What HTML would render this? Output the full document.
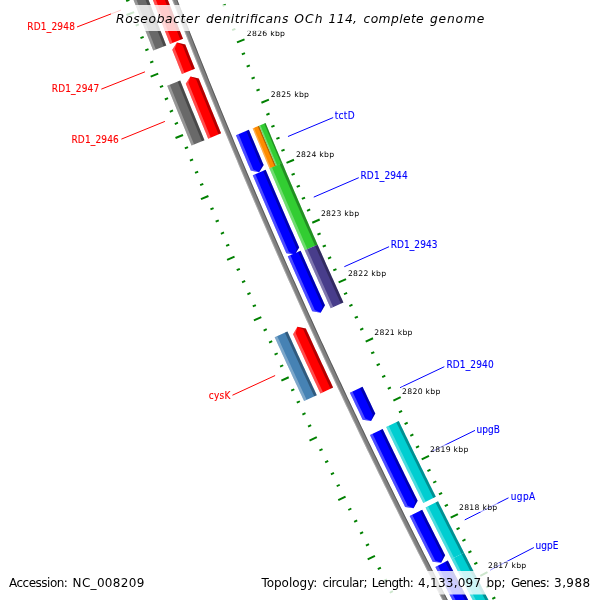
<!DOCTYPE html>
<html><head><meta charset="utf-8"><title>Roseobacter denitrificans OCh 114</title>
<style>html,body{margin:0;padding:0;background:#fff;overflow:hidden}svg{display:block}</style></head>
<body><svg width="600" height="600" viewBox="0 0 600 600">
<rect width="600" height="600" fill="#fff"/>
<polygon points="469.09,640.66 467.56,637.77 466.04,634.88 464.52,631.99 463.00,629.10 461.48,626.21 459.97,623.32 458.45,620.42 456.94,617.53 455.43,614.63 453.92,611.74 452.41,608.84 450.91,605.94 449.40,603.04 447.90,600.14 446.39,597.24 444.89,594.34 443.40,591.44 441.90,588.54 440.40,585.63 438.91,582.73 437.42,579.82 435.92,576.92 434.44,574.01 432.95,571.10 431.46,568.19 429.98,565.28 428.49,562.37 427.01,559.46 425.53,556.55 424.05,553.64 422.58,550.73 421.10,547.81 419.63,544.90 418.16,541.98 416.69,539.07 415.22,536.15 413.75,533.23 412.29,530.31 410.82,527.39 409.36,524.47 407.90,521.55 406.44,518.63 404.98,515.70 403.52,512.78 402.07,509.86 400.62,506.93 399.17,504.01 397.72,501.08 396.27,498.15 394.82,495.22 393.38,492.29 391.93,489.36 390.49,486.43 389.05,483.50 387.61,480.57 386.18,477.64 384.74,474.70 383.31,471.77 381.87,468.83 380.44,465.90 379.01,462.96 377.59,460.02 376.16,457.08 374.74,454.14 373.31,451.20 371.89,448.26 370.47,445.32 369.06,442.38 367.64,439.44 366.23,436.49 364.81,433.55 363.40,430.60 361.99,427.66 360.58,424.71 359.18,421.76 357.77,418.81 356.37,415.86 354.97,412.91 353.57,409.96 352.17,407.01 350.77,404.06 349.37,401.11 347.98,398.15 346.59,395.20 345.20,392.24 343.81,389.29 342.42,386.33 341.04,383.37 339.65,380.41 338.27,377.45 336.89,374.49 335.51,371.53 334.13,368.57 332.75,365.61 331.38,362.65 330.01,359.68 328.64,356.72 327.27,353.75 325.90,350.79 324.53,347.82 323.17,344.85 321.80,341.89 320.44,338.92 319.08,335.95 317.72,332.98 316.37,330.01 315.01,327.04 313.66,324.06 312.31,321.09 310.96,318.12 309.61,315.14 308.26,312.17 306.91,309.19 305.57,306.21 304.23,303.24 302.89,300.26 301.55,297.28 300.21,294.30 298.87,291.32 297.54,288.34 296.21,285.35 294.88,282.37 293.55,279.39 292.22,276.40 290.89,273.42 289.57,270.43 288.25,267.45 286.93,264.46 285.61,261.47 284.29,258.48 282.97,255.50 281.66,252.51 280.34,249.51 279.03,246.52 277.72,243.53 276.41,240.54 275.11,237.55 273.80,234.55 272.50,231.56 271.20,228.56 269.90,225.56 268.60,222.57 267.30,219.57 266.01,216.57 264.71,213.57 263.42,210.57 262.13,207.57 260.84,204.57 259.56,201.57 258.27,198.57 256.99,195.56 255.70,192.56 254.42,189.55 253.14,186.55 251.87,183.54 250.59,180.54 249.32,177.53 248.04,174.52 246.77,171.51 245.51,168.50 244.24,165.49 242.97,162.48 241.71,159.47 240.45,156.46 239.18,153.44 237.92,150.43 236.67,147.42 235.41,144.40 234.16,141.39 232.90,138.37 231.65,135.35 230.40,132.34 229.16,129.32 227.91,126.30 226.66,123.28 225.42,120.26 224.18,117.24 222.94,114.21 221.70,111.19 220.47,108.17 219.23,105.15 218.00,102.12 216.77,99.10 215.54,96.07 214.31,93.04 213.08,90.02 211.86,86.99 210.64,83.96 209.41,80.93 208.19,77.90 206.98,74.87 205.76,71.84 204.54,68.81 203.33,65.78 202.12,62.74 200.91,59.71 199.70,56.67 198.49,53.64 197.29,50.60 196.09,47.57 194.88,44.53 193.68,41.49 192.48,38.45 191.29,35.42 190.09,32.38 188.90,29.34 187.71,26.29 186.52,23.25 185.33,20.21 184.14,17.17 182.96,14.12 181.77,11.08 180.59,8.04 179.41,4.99 178.23,1.94 177.06,-1.10 175.88,-4.15 174.71,-7.20 173.53,-10.25 172.36,-13.30 171.19,-16.35 170.03,-19.40 168.86,-22.45 167.70,-25.50 166.54,-28.55 165.38,-31.61 164.22,-34.66 163.06,-37.71 161.90,-40.77 157.32,-39.04 158.48,-35.98 159.64,-32.92 160.80,-29.87 161.96,-26.81 163.12,-23.76 164.28,-20.70 165.45,-17.65 166.62,-14.59 167.79,-11.54 168.96,-8.49 170.13,-5.44 171.31,-2.39 172.48,0.66 173.66,3.71 174.84,6.76 176.02,9.81 177.21,12.85 178.39,15.90 179.58,18.95 180.76,21.99 181.95,25.04 183.15,28.08 184.34,31.12 185.53,34.17 186.73,37.21 187.93,40.25 189.13,43.29 190.33,46.33 191.53,49.37 192.73,52.41 193.94,55.45 195.15,58.49 196.36,61.52 197.57,64.56 198.78,67.59 200.00,70.63 201.21,73.66 202.43,76.70 203.65,79.73 204.87,82.76 206.09,85.79 207.32,88.82 208.54,91.86 209.77,94.88 211.00,97.91 212.23,100.94 213.46,103.97 214.70,107.00 215.93,110.02 217.17,113.05 218.41,116.07 219.65,119.10 220.89,122.12 222.13,125.14 223.38,128.17 224.63,131.19 225.88,134.21 227.13,137.23 228.38,140.25 229.63,143.27 230.89,146.29 232.14,149.30 233.40,152.32 234.66,155.34 235.93,158.35 237.19,161.37 238.45,164.38 239.72,167.39 240.99,170.41 242.26,173.42 243.53,176.43 244.80,179.44 246.08,182.45 247.36,185.46 248.64,188.47 249.91,191.47 251.20,194.48 252.48,197.49 253.76,200.49 255.05,203.50 256.34,206.50 257.63,209.51 258.92,212.51 260.21,215.51 261.51,218.51 262.80,221.51 264.10,224.51 265.40,227.51 266.70,230.51 268.01,233.51 269.31,236.51 270.62,239.50 271.92,242.50 273.23,245.50 274.54,248.49 275.86,251.48 277.17,254.48 278.49,257.47 279.80,260.46 281.12,263.45 282.44,266.44 283.77,269.43 285.09,272.42 286.42,275.41 287.74,278.39 289.07,281.38 290.40,284.37 291.73,287.35 293.07,290.34 294.40,293.32 295.74,296.30 297.08,299.29 298.42,302.27 299.76,305.25 301.10,308.23 302.45,311.21 303.80,314.19 305.14,317.16 306.49,320.14 307.84,323.12 309.20,326.09 310.55,329.07 311.91,332.04 313.27,335.01 314.63,337.99 315.99,340.96 317.35,343.93 318.71,346.90 320.08,349.87 321.45,352.84 322.82,355.81 324.19,358.78 325.56,361.74 326.93,364.71 328.31,367.67 329.69,370.64 331.07,373.60 332.45,376.56 333.83,379.53 335.21,382.49 336.60,385.45 337.98,388.41 339.37,391.37 340.76,394.33 342.16,397.28 343.55,400.24 344.94,403.20 346.34,406.15 347.74,409.11 349.14,412.06 350.54,415.02 351.94,417.97 353.35,420.92 354.75,423.87 356.16,426.82 357.57,429.77 358.98,432.72 360.39,435.67 361.81,438.61 363.22,441.56 364.64,444.50 366.06,447.45 367.48,450.39 368.90,453.34 370.33,456.28 371.75,459.22 373.18,462.16 374.61,465.10 376.04,468.04 377.47,470.98 378.90,473.92 380.34,476.85 381.78,479.79 383.21,482.73 384.65,485.66 386.09,488.59 387.54,491.53 388.98,494.46 390.43,497.39 391.88,500.32 393.33,503.25 394.78,506.18 396.23,509.11 397.68,512.04 399.14,514.96 400.60,517.89 402.05,520.82 403.51,523.74 404.98,526.66 406.44,529.59 407.91,532.51 409.37,535.43 410.84,538.35 412.31,541.27 413.78,544.19 415.26,547.11 416.73,550.02 418.21,552.94 419.68,555.86 421.16,558.77 422.65,561.68 424.13,564.60 425.61,567.51 427.10,570.42 428.59,573.33 430.07,576.24 431.56,579.15 433.06,582.06 434.55,584.97 436.05,587.88 437.54,590.78 439.04,593.69 440.54,596.59 442.04,599.49 443.55,602.40 445.05,605.30 446.56,608.20 448.06,611.10 449.57,614.00 451.09,616.90 452.60,619.80 454.11,622.69 455.63,625.59 457.15,628.48 458.66,631.38 460.18,634.27 461.71,637.16 463.23,640.06 464.76,642.95" fill="#808080"/>
<polygon points="465.62,642.49 464.10,639.60 462.57,636.71 461.05,633.82 459.53,630.92 458.01,628.03 456.50,625.13 454.98,622.24 453.47,619.34 451.95,616.44 450.44,613.55 448.93,610.65 447.43,607.75 445.92,604.85 444.42,601.95 442.91,599.04 441.41,596.14 439.91,593.24 438.41,590.33 436.92,587.43 435.42,584.52 433.93,581.61 432.44,578.71 430.95,575.80 429.46,572.89 427.97,569.98 426.48,567.07 425.00,564.15 423.52,561.24 422.04,558.33 420.56,555.41 419.08,552.50 417.60,549.58 416.13,546.66 414.66,543.75 413.19,540.83 411.72,537.91 410.25,534.99 408.78,532.07 407.32,529.15 405.85,526.23 404.39,523.30 402.93,520.38 401.47,517.45 400.02,514.53 398.56,511.60 397.11,508.67 395.65,505.75 394.20,502.82 392.75,499.89 391.31,496.96 389.86,494.03 388.42,491.10 386.97,488.16 385.53,485.23 384.09,482.29 382.66,479.36 381.22,476.42 379.78,473.49 378.35,470.55 376.92,467.61 375.49,464.67 374.06,461.73 372.63,458.79 371.21,455.85 369.79,452.91 368.36,449.97 366.94,447.02 365.52,444.08 364.11,441.13 362.69,438.19 361.28,435.24 359.87,432.29 358.45,429.35 357.05,426.40 355.64,423.45 354.23,420.50 352.83,417.55 351.42,414.59 350.02,411.64 348.62,408.69 347.23,405.73 345.83,402.78 344.44,399.82 343.04,396.87 341.65,393.91 340.26,390.95 338.87,387.99 337.49,385.03 336.10,382.07 334.72,379.11 333.34,376.15 331.95,373.19 330.58,370.22 329.20,367.26 327.82,364.30 326.45,361.33 325.08,358.36 323.71,355.40 322.34,352.43 320.97,349.46 319.60,346.49 318.24,343.52 316.88,340.55 315.52,337.58 314.16,334.61 312.80,331.63 311.44,328.66 310.09,325.69 308.74,322.71 307.39,319.74 306.04,316.76 304.69,313.78 303.34,310.80 302.00,307.82 300.65,304.85 299.31,301.86 297.97,298.88 296.63,295.90 295.30,292.92 293.96,289.94 292.63,286.95 291.30,283.97 289.97,280.98 288.64,278.00 287.31,275.01 285.99,272.02 284.66,269.03 283.34,266.05 282.02,263.06 280.70,260.07 279.38,257.07 278.07,254.08 276.75,251.09 275.44,248.10 274.13,245.10 272.82,242.11 271.51,239.11 270.21,236.12 268.90,233.12 267.60,230.12 266.30,227.12 265.00,224.12 263.70,221.13 262.41,218.13 261.11,215.12 259.82,212.12 258.53,209.12 257.24,206.12 255.95,203.11 254.67,200.11 253.38,197.10 252.10,194.10 250.82,191.09 249.54,188.08 248.26,185.08 246.98,182.07 245.71,179.06 244.43,176.05 243.16,173.04 241.89,170.02 240.62,167.01 239.36,164.00 238.09,160.99 236.83,157.97 235.57,154.96 234.31,151.94 233.05,148.93 231.79,145.91 230.54,142.89 229.28,139.87 228.03,136.85 226.78,133.83 225.53,130.81 224.29,127.79 223.04,124.77 221.80,121.75 220.55,118.73 219.31,115.70 218.08,112.68 216.84,109.65 215.60,106.63 214.37,103.60 213.14,100.57 211.91,97.54 210.68,94.52 209.45,91.49 208.22,88.46 207.00,85.43 205.78,82.40 204.56,79.36 203.34,76.33 202.12,73.30 200.90,70.27 199.69,67.23 198.48,64.20 197.27,61.16 196.06,58.12 194.85,55.09 193.64,52.05 192.44,49.01 191.24,45.97 190.04,42.93 188.84,39.89 187.64,36.85 186.44,33.81 185.25,30.77 184.06,27.72 182.87,24.68 181.68,21.64 180.49,18.59 179.30,15.55 178.12,12.50 176.94,9.45 175.76,6.41 174.58,3.36 173.40,0.31 172.22,-2.74 171.05,-5.79 169.87,-8.84 168.70,-11.89 167.53,-14.94 166.37,-18.00 165.20,-21.05 164.04,-24.10 162.87,-27.16 161.71,-30.21 160.55,-33.27 159.39,-36.33 158.24,-39.38 157.32,-39.04 158.48,-35.98 159.64,-32.92 160.80,-29.87 161.96,-26.81 163.12,-23.76 164.28,-20.70 165.45,-17.65 166.62,-14.59 167.79,-11.54 168.96,-8.49 170.13,-5.44 171.31,-2.39 172.48,0.66 173.66,3.71 174.84,6.76 176.02,9.81 177.21,12.85 178.39,15.90 179.58,18.95 180.76,21.99 181.95,25.04 183.15,28.08 184.34,31.12 185.53,34.17 186.73,37.21 187.93,40.25 189.13,43.29 190.33,46.33 191.53,49.37 192.73,52.41 193.94,55.45 195.15,58.49 196.36,61.52 197.57,64.56 198.78,67.59 200.00,70.63 201.21,73.66 202.43,76.70 203.65,79.73 204.87,82.76 206.09,85.79 207.32,88.82 208.54,91.86 209.77,94.88 211.00,97.91 212.23,100.94 213.46,103.97 214.70,107.00 215.93,110.02 217.17,113.05 218.41,116.07 219.65,119.10 220.89,122.12 222.13,125.14 223.38,128.17 224.63,131.19 225.88,134.21 227.13,137.23 228.38,140.25 229.63,143.27 230.89,146.29 232.14,149.30 233.40,152.32 234.66,155.34 235.93,158.35 237.19,161.37 238.45,164.38 239.72,167.39 240.99,170.41 242.26,173.42 243.53,176.43 244.80,179.44 246.08,182.45 247.36,185.46 248.64,188.47 249.91,191.47 251.20,194.48 252.48,197.49 253.76,200.49 255.05,203.50 256.34,206.50 257.63,209.51 258.92,212.51 260.21,215.51 261.51,218.51 262.80,221.51 264.10,224.51 265.40,227.51 266.70,230.51 268.01,233.51 269.31,236.51 270.62,239.50 271.92,242.50 273.23,245.50 274.54,248.49 275.86,251.48 277.17,254.48 278.49,257.47 279.80,260.46 281.12,263.45 282.44,266.44 283.77,269.43 285.09,272.42 286.42,275.41 287.74,278.39 289.07,281.38 290.40,284.37 291.73,287.35 293.07,290.34 294.40,293.32 295.74,296.30 297.08,299.29 298.42,302.27 299.76,305.25 301.10,308.23 302.45,311.21 303.80,314.19 305.14,317.16 306.49,320.14 307.84,323.12 309.20,326.09 310.55,329.07 311.91,332.04 313.27,335.01 314.63,337.99 315.99,340.96 317.35,343.93 318.71,346.90 320.08,349.87 321.45,352.84 322.82,355.81 324.19,358.78 325.56,361.74 326.93,364.71 328.31,367.67 329.69,370.64 331.07,373.60 332.45,376.56 333.83,379.53 335.21,382.49 336.60,385.45 337.98,388.41 339.37,391.37 340.76,394.33 342.16,397.28 343.55,400.24 344.94,403.20 346.34,406.15 347.74,409.11 349.14,412.06 350.54,415.02 351.94,417.97 353.35,420.92 354.75,423.87 356.16,426.82 357.57,429.77 358.98,432.72 360.39,435.67 361.81,438.61 363.22,441.56 364.64,444.50 366.06,447.45 367.48,450.39 368.90,453.34 370.33,456.28 371.75,459.22 373.18,462.16 374.61,465.10 376.04,468.04 377.47,470.98 378.90,473.92 380.34,476.85 381.78,479.79 383.21,482.73 384.65,485.66 386.09,488.59 387.54,491.53 388.98,494.46 390.43,497.39 391.88,500.32 393.33,503.25 394.78,506.18 396.23,509.11 397.68,512.04 399.14,514.96 400.60,517.89 402.05,520.82 403.51,523.74 404.98,526.66 406.44,529.59 407.91,532.51 409.37,535.43 410.84,538.35 412.31,541.27 413.78,544.19 415.26,547.11 416.73,550.02 418.21,552.94 419.68,555.86 421.16,558.77 422.65,561.68 424.13,564.60 425.61,567.51 427.10,570.42 428.59,573.33 430.07,576.24 431.56,579.15 433.06,582.06 434.55,584.97 436.05,587.88 437.54,590.78 439.04,593.69 440.54,596.59 442.04,599.49 443.55,602.40 445.05,605.30 446.56,608.20 448.06,611.10 449.57,614.00 451.09,616.90 452.60,619.80 454.11,622.69 455.63,625.59 457.15,628.48 458.66,631.38 460.18,634.27 461.71,637.16 463.23,640.06 464.76,642.95" fill="#fff" fill-opacity="0.30"/>
<polygon points="469.09,640.66 467.56,637.77 466.04,634.88 464.52,631.99 463.00,629.10 461.48,626.21 459.97,623.32 458.45,620.42 456.94,617.53 455.43,614.63 453.92,611.74 452.41,608.84 450.91,605.94 449.40,603.04 447.90,600.14 446.39,597.24 444.89,594.34 443.40,591.44 441.90,588.54 440.40,585.63 438.91,582.73 437.42,579.82 435.92,576.92 434.44,574.01 432.95,571.10 431.46,568.19 429.98,565.28 428.49,562.37 427.01,559.46 425.53,556.55 424.05,553.64 422.58,550.73 421.10,547.81 419.63,544.90 418.16,541.98 416.69,539.07 415.22,536.15 413.75,533.23 412.29,530.31 410.82,527.39 409.36,524.47 407.90,521.55 406.44,518.63 404.98,515.70 403.52,512.78 402.07,509.86 400.62,506.93 399.17,504.01 397.72,501.08 396.27,498.15 394.82,495.22 393.38,492.29 391.93,489.36 390.49,486.43 389.05,483.50 387.61,480.57 386.18,477.64 384.74,474.70 383.31,471.77 381.87,468.83 380.44,465.90 379.01,462.96 377.59,460.02 376.16,457.08 374.74,454.14 373.31,451.20 371.89,448.26 370.47,445.32 369.06,442.38 367.64,439.44 366.23,436.49 364.81,433.55 363.40,430.60 361.99,427.66 360.58,424.71 359.18,421.76 357.77,418.81 356.37,415.86 354.97,412.91 353.57,409.96 352.17,407.01 350.77,404.06 349.37,401.11 347.98,398.15 346.59,395.20 345.20,392.24 343.81,389.29 342.42,386.33 341.04,383.37 339.65,380.41 338.27,377.45 336.89,374.49 335.51,371.53 334.13,368.57 332.75,365.61 331.38,362.65 330.01,359.68 328.64,356.72 327.27,353.75 325.90,350.79 324.53,347.82 323.17,344.85 321.80,341.89 320.44,338.92 319.08,335.95 317.72,332.98 316.37,330.01 315.01,327.04 313.66,324.06 312.31,321.09 310.96,318.12 309.61,315.14 308.26,312.17 306.91,309.19 305.57,306.21 304.23,303.24 302.89,300.26 301.55,297.28 300.21,294.30 298.87,291.32 297.54,288.34 296.21,285.35 294.88,282.37 293.55,279.39 292.22,276.40 290.89,273.42 289.57,270.43 288.25,267.45 286.93,264.46 285.61,261.47 284.29,258.48 282.97,255.50 281.66,252.51 280.34,249.51 279.03,246.52 277.72,243.53 276.41,240.54 275.11,237.55 273.80,234.55 272.50,231.56 271.20,228.56 269.90,225.56 268.60,222.57 267.30,219.57 266.01,216.57 264.71,213.57 263.42,210.57 262.13,207.57 260.84,204.57 259.56,201.57 258.27,198.57 256.99,195.56 255.70,192.56 254.42,189.55 253.14,186.55 251.87,183.54 250.59,180.54 249.32,177.53 248.04,174.52 246.77,171.51 245.51,168.50 244.24,165.49 242.97,162.48 241.71,159.47 240.45,156.46 239.18,153.44 237.92,150.43 236.67,147.42 235.41,144.40 234.16,141.39 232.90,138.37 231.65,135.35 230.40,132.34 229.16,129.32 227.91,126.30 226.66,123.28 225.42,120.26 224.18,117.24 222.94,114.21 221.70,111.19 220.47,108.17 219.23,105.15 218.00,102.12 216.77,99.10 215.54,96.07 214.31,93.04 213.08,90.02 211.86,86.99 210.64,83.96 209.41,80.93 208.19,77.90 206.98,74.87 205.76,71.84 204.54,68.81 203.33,65.78 202.12,62.74 200.91,59.71 199.70,56.67 198.49,53.64 197.29,50.60 196.09,47.57 194.88,44.53 193.68,41.49 192.48,38.45 191.29,35.42 190.09,32.38 188.90,29.34 187.71,26.29 186.52,23.25 185.33,20.21 184.14,17.17 182.96,14.12 181.77,11.08 180.59,8.04 179.41,4.99 178.23,1.94 177.06,-1.10 175.88,-4.15 174.71,-7.20 173.53,-10.25 172.36,-13.30 171.19,-16.35 170.03,-19.40 168.86,-22.45 167.70,-25.50 166.54,-28.55 165.38,-31.61 164.22,-34.66 163.06,-37.71 161.90,-40.77 160.99,-40.42 162.14,-37.37 163.30,-34.31 164.46,-31.26 165.62,-28.20 166.78,-25.15 167.95,-22.10 169.11,-19.05 170.28,-16.00 171.45,-12.95 172.62,-9.90 173.79,-6.85 174.97,-3.80 176.14,-0.75 177.32,2.30 178.50,5.34 179.68,8.39 180.86,11.43 182.04,14.48 183.23,17.52 184.42,20.57 185.60,23.61 186.80,26.65 187.99,29.69 189.18,32.73 190.38,35.77 191.57,38.81 192.77,41.85 193.97,44.89 195.17,47.93 196.38,50.96 197.58,54.00 198.79,57.04 200.00,60.07 201.21,63.11 202.42,66.14 203.63,69.17 204.85,72.20 206.07,75.24 207.28,78.27 208.50,81.30 209.73,84.33 210.95,87.36 212.17,90.38 213.40,93.41 214.63,96.44 215.86,99.46 217.09,102.49 218.32,105.52 219.56,108.54 220.80,111.56 222.03,114.59 223.27,117.61 224.52,120.63 225.76,123.65 227.00,126.67 228.25,129.69 229.50,132.71 230.75,135.73 232.00,138.75 233.25,141.76 234.51,144.78 235.76,147.79 237.02,150.81 238.28,153.82 239.54,156.84 240.80,159.85 242.07,162.86 243.33,165.87 244.60,168.88 245.87,171.89 247.14,174.90 248.41,177.91 249.69,180.92 250.96,183.93 252.24,186.93 253.52,189.94 254.80,192.94 256.08,195.95 257.37,198.95 258.65,201.96 259.94,204.96 261.23,207.96 262.52,210.96 263.81,213.96 265.11,216.96 266.40,219.96 267.70,222.96 269.00,225.95 270.30,228.95 271.60,231.95 272.90,234.94 274.21,237.94 275.52,240.93 276.82,243.92 278.13,246.92 279.45,249.91 280.76,252.90 282.07,255.89 283.39,258.88 284.71,261.87 286.03,264.86 287.35,267.84 288.67,270.83 290.00,273.82 291.32,276.80 292.65,279.79 293.98,282.77 295.31,285.75 296.65,288.74 297.98,291.72 299.32,294.70 300.65,297.68 301.99,300.66 303.33,303.64 304.68,306.62 306.02,309.59 307.37,312.57 308.71,315.55 310.06,318.52 311.41,321.50 312.77,324.47 314.12,327.44 315.47,330.41 316.83,333.39 318.19,336.36 319.55,339.33 320.91,342.30 322.28,345.26 323.64,348.23 325.01,351.20 326.38,354.16 327.75,357.13 329.12,360.10 330.49,363.06 331.87,366.02 333.24,368.99 334.62,371.95 336.00,374.91 337.38,377.87 338.76,380.83 340.15,383.79 341.53,386.74 342.92,389.70 344.31,392.66 345.70,395.61 347.09,398.57 348.49,401.52 349.88,404.48 351.28,407.43 352.68,410.38 354.08,413.33 355.48,416.28 356.89,419.23 358.29,422.18 359.70,425.13 361.11,428.08 362.52,431.03 363.93,433.97 365.34,436.92 366.76,439.86 368.17,442.80 369.59,445.75 371.01,448.69 372.43,451.63 373.86,454.57 375.28,457.51 376.71,460.45 378.13,463.39 379.56,466.33 380.99,469.26 382.43,472.20 383.86,475.13 385.30,478.07 386.73,481.00 388.17,483.93 389.61,486.87 391.05,489.80 392.50,492.73 393.94,495.66 395.39,498.59 396.84,501.51 398.29,504.44 399.74,507.37 401.19,510.29 402.65,513.22 404.10,516.14 405.56,519.07 407.02,521.99 408.48,524.91 409.95,527.83 411.41,530.75 412.88,533.67 414.34,536.59 415.81,539.51 417.28,542.42 418.75,545.34 420.23,548.25 421.70,551.17 423.18,554.08 424.66,557.00 426.14,559.91 427.62,562.82 429.10,565.73 430.59,568.64 432.08,571.55 433.56,574.46 435.05,577.36 436.54,580.27 438.04,583.18 439.53,586.08 441.03,588.98 442.52,591.89 444.02,594.79 445.52,597.69 447.03,600.59 448.53,603.49 450.04,606.39 451.54,609.29 453.05,612.19 454.56,615.08 456.07,617.98 457.59,620.88 459.10,623.77 460.62,626.66 462.13,629.56 463.65,632.45 465.18,635.34 466.70,638.23 468.22,641.12" fill="#000" fill-opacity="0.30"/>
<polygon points="166.27,45.43 165.07,42.38 163.87,39.32 162.67,36.25 161.47,33.19 160.27,30.13 159.08,27.07 157.88,24.01 156.69,20.94 155.50,17.88 154.31,14.81 153.13,11.75 151.94,8.68 150.76,5.61 149.58,2.55 148.40,-0.52 147.22,-3.59 146.05,-6.66 144.87,-9.73 143.70,-12.80 142.53,-15.87 141.36,-18.95 140.19,-22.02 139.02,-25.09 137.86,-28.17 136.70,-31.24 123.60,-26.29 124.76,-23.21 125.93,-20.13 127.10,-17.05 128.27,-13.97 129.44,-10.89 130.62,-7.81 131.79,-4.73 132.97,-1.66 134.15,1.42 135.33,4.50 136.51,7.57 137.70,10.65 138.88,13.72 140.07,16.80 141.26,19.87 142.45,22.94 143.64,26.01 144.84,29.08 146.03,32.15 147.23,35.22 148.43,38.29 149.63,41.36 150.83,44.43 152.04,47.49 153.24,50.56" fill="#696969"/>
<polygon points="155.85,49.54 154.64,46.47 153.44,43.41 152.24,40.34 151.04,37.27 149.84,34.20 148.64,31.14 147.45,28.07 146.25,25.00 145.06,21.93 143.87,18.86 142.68,15.79 141.49,12.71 140.31,9.64 139.13,6.57 137.94,3.49 136.76,0.42 135.59,-2.66 134.41,-5.73 133.23,-8.81 132.06,-11.89 130.89,-14.96 129.72,-18.04 128.55,-21.12 127.38,-24.20 126.22,-27.28 123.60,-26.29 124.76,-23.21 125.93,-20.13 127.10,-17.05 128.27,-13.97 129.44,-10.89 130.62,-7.81 131.79,-4.73 132.97,-1.66 134.15,1.42 135.33,4.50 136.51,7.57 137.70,10.65 138.88,13.72 140.07,16.80 141.26,19.87 142.45,22.94 143.64,26.01 144.84,29.08 146.03,32.15 147.23,35.22 148.43,38.29 149.63,41.36 150.83,44.43 152.04,47.49 153.24,50.56" fill="#fff" fill-opacity="0.30"/>
<polygon points="166.27,45.43 165.07,42.38 163.87,39.32 162.67,36.25 161.47,33.19 160.27,30.13 159.08,27.07 157.88,24.01 156.69,20.94 155.50,17.88 154.31,14.81 153.13,11.75 151.94,8.68 150.76,5.61 149.58,2.55 148.40,-0.52 147.22,-3.59 146.05,-6.66 144.87,-9.73 143.70,-12.80 142.53,-15.87 141.36,-18.95 140.19,-22.02 139.02,-25.09 137.86,-28.17 136.70,-31.24 134.08,-30.25 135.24,-27.18 136.40,-24.10 137.57,-21.02 138.74,-17.95 139.91,-14.88 141.08,-11.80 142.26,-8.73 143.43,-5.66 144.61,-2.59 145.79,0.48 146.97,3.55 148.15,6.62 149.33,9.69 150.52,12.76 151.70,15.82 152.89,18.89 154.08,21.96 155.27,25.02 156.47,28.09 157.66,31.15 158.86,34.21 160.06,37.28 161.26,40.34 162.46,43.40 163.66,46.46" fill="#000" fill-opacity="0.30"/>
<polygon points="204.48,140.17 203.25,137.19 202.02,134.22 200.80,131.24 199.57,128.26 198.35,125.28 197.13,122.30 195.91,119.32 194.69,116.34 193.48,113.36 192.26,110.38 191.05,107.40 189.84,104.42 188.63,101.43 187.42,98.45 186.22,95.46 185.01,92.48 183.81,89.49 182.61,86.51 181.41,83.52 180.21,80.53 167.21,85.74 168.41,88.73 169.62,91.73 170.82,94.72 172.03,97.71 173.24,100.71 174.44,103.70 175.66,106.69 176.87,109.68 178.08,112.67 179.30,115.66 180.51,118.65 181.73,121.64 182.95,124.62 184.18,127.61 185.40,130.60 186.62,133.58 187.85,136.56 189.08,139.55 190.31,142.53 191.54,145.51" fill="#696969"/>
<polygon points="194.13,144.45 192.90,141.46 191.67,138.48 190.44,135.50 189.21,132.52 187.99,129.53 186.77,126.55 185.55,123.56 184.33,120.58 183.11,117.59 181.89,114.60 180.68,111.62 179.46,108.63 178.25,105.64 177.04,102.65 175.83,99.66 174.62,96.67 173.42,93.68 172.21,90.68 171.01,87.69 169.81,84.70 167.21,85.74 168.41,88.73 169.62,91.73 170.82,94.72 172.03,97.71 173.24,100.71 174.44,103.70 175.66,106.69 176.87,109.68 178.08,112.67 179.30,115.66 180.51,118.65 181.73,121.64 182.95,124.62 184.18,127.61 185.40,130.60 186.62,133.58 187.85,136.56 189.08,139.55 190.31,142.53 191.54,145.51" fill="#fff" fill-opacity="0.30"/>
<polygon points="204.48,140.17 203.25,137.19 202.02,134.22 200.80,131.24 199.57,128.26 198.35,125.28 197.13,122.30 195.91,119.32 194.69,116.34 193.48,113.36 192.26,110.38 191.05,107.40 189.84,104.42 188.63,101.43 187.42,98.45 186.22,95.46 185.01,92.48 183.81,89.49 182.61,86.51 181.41,83.52 180.21,80.53 177.61,81.57 178.81,84.56 180.01,87.55 181.21,90.54 182.41,93.53 183.62,96.51 184.83,99.50 186.04,102.48 187.25,105.47 188.46,108.45 189.67,111.44 190.89,114.42 192.10,117.40 193.32,120.38 194.54,123.37 195.76,126.35 196.98,129.33 198.21,132.30 199.43,135.28 200.66,138.26 201.89,141.24" fill="#000" fill-opacity="0.30"/>
<polygon points="316.79,395.14 315.44,392.26 314.09,389.36 312.74,386.47 311.39,383.58 310.04,380.69 308.70,377.80 307.36,374.90 306.01,372.01 304.67,369.11 303.34,366.22 302.00,363.32 300.66,360.42 299.33,357.52 298.00,354.63 296.67,351.73 295.34,348.83 294.01,345.93 292.68,343.02 291.36,340.12 290.04,337.22 288.71,334.31 287.39,331.41 274.65,337.20 275.97,340.11 277.29,343.02 278.62,345.93 279.95,348.84 281.28,351.75 282.61,354.66 283.94,357.56 285.28,360.47 286.61,363.38 287.95,366.28 289.29,369.18 290.63,372.09 291.97,374.99 293.31,377.89 294.66,380.79 296.00,383.69 297.35,386.59 298.70,389.49 300.05,392.39 301.40,395.29 302.76,398.19 304.11,401.08" fill="#4682b4"/>
<polygon points="306.65,399.89 305.29,397.00 303.94,394.10 302.59,391.21 301.24,388.31 299.89,385.41 298.54,382.51 297.20,379.62 295.85,376.72 294.51,373.81 293.17,370.91 291.83,368.01 290.49,365.11 289.15,362.21 287.82,359.30 286.49,356.40 285.15,353.49 283.82,350.58 282.50,347.68 281.17,344.77 279.84,341.86 278.52,338.95 277.20,336.04 274.65,337.20 275.97,340.11 277.29,343.02 278.62,345.93 279.95,348.84 281.28,351.75 282.61,354.66 283.94,357.56 285.28,360.47 286.61,363.38 287.95,366.28 289.29,369.18 290.63,372.09 291.97,374.99 293.31,377.89 294.66,380.79 296.00,383.69 297.35,386.59 298.70,389.49 300.05,392.39 301.40,395.29 302.76,398.19 304.11,401.08" fill="#fff" fill-opacity="0.30"/>
<polygon points="316.79,395.14 315.44,392.26 314.09,389.36 312.74,386.47 311.39,383.58 310.04,380.69 308.70,377.80 307.36,374.90 306.01,372.01 304.67,369.11 303.34,366.22 302.00,363.32 300.66,360.42 299.33,357.52 298.00,354.63 296.67,351.73 295.34,348.83 294.01,345.93 292.68,343.02 291.36,340.12 290.04,337.22 288.71,334.31 287.39,331.41 284.84,332.57 286.17,335.47 287.49,338.38 288.81,341.28 290.14,344.19 291.46,347.09 292.79,349.99 294.12,352.89 295.45,355.79 296.79,358.69 298.12,361.59 299.46,364.49 300.79,367.39 302.13,370.29 303.47,373.18 304.82,376.08 306.16,378.98 307.51,381.87 308.85,384.76 310.20,387.66 311.55,390.55 312.90,393.44 314.25,396.33" fill="#000" fill-opacity="0.30"/>
<polygon points="183.02,38.84 181.82,35.79 180.62,32.74 179.43,29.69 178.23,26.64 177.04,23.59 175.85,20.53 174.66,17.48 173.47,14.42 172.28,11.37 171.10,8.31 169.92,5.26 168.74,2.20 167.56,-0.86 166.38,-3.92 165.20,-6.98 164.03,-10.04 162.86,-13.10 161.68,-16.16 160.51,-19.22 159.35,-22.28 158.18,-25.35 157.02,-28.41 155.85,-31.47 154.69,-34.54 153.53,-37.60 140.44,-32.66 141.60,-29.58 142.76,-26.51 143.93,-23.44 145.10,-20.37 146.26,-17.30 147.43,-14.23 148.61,-11.16 149.78,-8.09 150.96,-5.02 152.13,-1.96 153.31,1.11 154.49,4.17 155.68,7.24 156.86,10.30 158.04,13.37 159.23,16.43 160.42,19.49 161.61,22.56 162.80,25.62 164.00,28.68 165.19,31.74 166.39,34.80 167.59,37.85 168.79,40.91 169.99,43.97" fill="#ff0000"/>
<polygon points="172.60,42.94 171.40,39.89 170.20,36.83 169.00,33.77 167.80,30.72 166.61,27.66 165.41,24.60 164.22,21.54 163.03,18.48 161.84,15.42 160.66,12.36 159.47,9.29 158.29,6.23 157.11,3.17 155.93,0.10 154.75,-2.96 153.57,-6.03 152.40,-9.09 151.22,-12.16 150.05,-15.23 148.88,-18.30 147.71,-21.36 146.55,-24.43 145.38,-27.50 144.22,-30.57 143.06,-33.64 140.44,-32.66 141.60,-29.58 142.76,-26.51 143.93,-23.44 145.10,-20.37 146.26,-17.30 147.43,-14.23 148.61,-11.16 149.78,-8.09 150.96,-5.02 152.13,-1.96 153.31,1.11 154.49,4.17 155.68,7.24 156.86,10.30 158.04,13.37 159.23,16.43 160.42,19.49 161.61,22.56 162.80,25.62 164.00,28.68 165.19,31.74 166.39,34.80 167.59,37.85 168.79,40.91 169.99,43.97" fill="#fff" fill-opacity="0.30"/>
<polygon points="183.02,38.84 181.82,35.79 180.62,32.74 179.43,29.69 178.23,26.64 177.04,23.59 175.85,20.53 174.66,17.48 173.47,14.42 172.28,11.37 171.10,8.31 169.92,5.26 168.74,2.20 167.56,-0.86 166.38,-3.92 165.20,-6.98 164.03,-10.04 162.86,-13.10 161.68,-16.16 160.51,-19.22 159.35,-22.28 158.18,-25.35 157.02,-28.41 155.85,-31.47 154.69,-34.54 153.53,-37.60 150.91,-36.61 152.07,-33.55 153.24,-30.48 154.40,-27.42 155.56,-24.35 156.73,-21.29 157.90,-18.22 159.07,-15.16 160.24,-12.10 161.41,-9.03 162.59,-5.97 163.77,-2.91 164.94,0.15 166.12,3.21 167.31,6.27 168.49,9.32 169.67,12.38 170.86,15.44 172.05,18.49 173.24,21.55 174.43,24.60 175.62,27.66 176.82,30.71 178.02,33.76 179.21,36.82 180.41,39.87" fill="#000" fill-opacity="0.30"/>
<polygon points="181.91,74.03 180.70,70.99 179.48,67.94 178.27,64.90 177.06,61.85 175.85,58.81 174.65,55.76 173.44,52.72 172.24,49.67 176.94,42.51 185.26,44.53 186.46,47.57 187.66,50.61 188.87,53.65 190.07,56.69 191.28,59.72 192.49,62.76 193.70,65.80 194.91,68.83" fill="#ff0000"/>
<polygon points="181.91,74.03 180.70,70.99 179.48,67.94 178.27,64.90 177.06,61.85 175.85,58.81 174.65,55.76 173.44,52.72 172.24,49.67 176.94,42.51 174.84,48.64 176.05,51.69 177.25,54.73 178.46,57.78 179.66,60.82 180.87,63.86 182.09,66.91 183.30,69.95 184.51,72.99" fill="#fff" fill-opacity="0.30"/>
<polygon points="194.91,68.83 193.70,65.80 192.49,62.76 191.28,59.72 190.07,56.69 188.87,53.65 187.66,50.61 186.46,47.57 185.26,44.53 176.94,42.51 182.66,45.56 183.86,48.60 185.06,51.64 186.26,54.68 187.47,57.72 188.68,60.76 189.89,63.80 191.10,66.83 192.31,69.87" fill="#000" fill-opacity="0.30"/>
<polygon points="208.18,138.64 206.98,135.75 205.79,132.86 204.60,129.97 203.41,127.08 202.22,124.18 201.04,121.29 199.85,118.40 198.67,115.50 197.49,112.61 196.31,109.71 195.13,106.82 193.96,103.92 192.78,101.02 191.61,98.13 190.43,95.23 189.26,92.33 188.09,89.43 186.93,86.53 185.76,83.63 190.42,76.44 198.75,78.41 199.91,81.30 201.08,84.20 202.25,87.09 203.41,89.98 204.58,92.87 205.76,95.76 206.93,98.65 208.10,101.54 209.28,104.43 210.45,107.32 211.63,110.21 212.81,113.10 213.99,115.99 215.18,118.87 216.36,121.76 217.55,124.64 218.74,127.53 219.92,130.41 221.12,133.29" fill="#ff0000"/>
<polygon points="208.18,138.64 206.98,135.75 205.79,132.86 204.60,129.97 203.41,127.08 202.22,124.18 201.04,121.29 199.85,118.40 198.67,115.50 197.49,112.61 196.31,109.71 195.13,106.82 193.96,103.92 192.78,101.02 191.61,98.13 190.43,95.23 189.26,92.33 188.09,89.43 186.93,86.53 185.76,83.63 190.42,76.44 188.36,82.58 189.52,85.48 190.69,88.38 191.86,91.28 193.03,94.18 194.20,97.07 195.38,99.97 196.55,102.87 197.73,105.76 198.90,108.66 200.08,111.55 201.26,114.45 202.45,117.34 203.63,120.23 204.82,123.12 206.00,126.01 207.19,128.90 208.38,131.79 209.57,134.68 210.76,137.57" fill="#fff" fill-opacity="0.30"/>
<polygon points="221.12,133.29 219.92,130.41 218.74,127.53 217.55,124.64 216.36,121.76 215.18,118.87 213.99,115.99 212.81,113.10 211.63,110.21 210.45,107.32 209.28,104.43 208.10,101.54 206.93,98.65 205.76,95.76 204.58,92.87 203.41,89.98 202.25,87.09 201.08,84.20 199.91,81.30 198.75,78.41 190.42,76.44 196.15,79.45 197.32,82.35 198.48,85.24 199.65,88.14 200.82,91.03 201.99,93.92 203.16,96.82 204.33,99.71 205.51,102.60 206.68,105.49 207.86,108.38 209.04,111.27 210.22,114.16 211.40,117.05 212.59,119.93 213.77,122.82 214.96,125.71 216.15,128.59 217.34,131.48 218.53,134.36" fill="#000" fill-opacity="0.30"/>
<polygon points="320.41,393.45 319.03,390.50 317.65,387.54 316.27,384.59 314.90,381.63 313.52,378.68 312.15,375.72 310.77,372.76 309.40,369.81 308.03,366.85 306.67,363.89 305.30,360.93 303.94,357.97 302.57,355.00 301.21,352.04 299.85,349.08 298.50,346.12 297.14,343.15 295.78,340.19 294.43,337.22 293.08,334.25 297.41,326.86 305.82,328.45 307.17,331.41 308.52,334.37 309.87,337.33 311.22,340.29 312.58,343.24 313.94,346.20 315.29,349.16 316.65,352.11 318.01,355.07 319.38,358.02 320.74,360.97 322.11,363.92 323.47,366.87 324.84,369.82 326.21,372.77 327.59,375.72 328.96,378.67 330.34,381.62 331.71,384.56 333.09,387.51" fill="#ff0000"/>
<polygon points="320.41,393.45 319.03,390.50 317.65,387.54 316.27,384.59 314.90,381.63 313.52,378.68 312.15,375.72 310.77,372.76 309.40,369.81 308.03,366.85 306.67,363.89 305.30,360.93 303.94,357.97 302.57,355.00 301.21,352.04 299.85,349.08 298.50,346.12 297.14,343.15 295.78,340.19 294.43,337.22 293.08,334.25 297.41,326.86 295.63,333.09 296.98,336.06 298.33,339.02 299.69,341.99 301.04,344.95 302.40,347.91 303.76,350.87 305.12,353.84 306.48,356.80 307.84,359.75 309.21,362.71 310.58,365.67 311.94,368.63 313.31,371.59 314.69,374.54 316.06,377.50 317.43,380.45 318.81,383.40 320.19,386.36 321.57,389.31 322.95,392.26" fill="#fff" fill-opacity="0.30"/>
<polygon points="333.09,387.51 331.71,384.56 330.34,381.62 328.96,378.67 327.59,375.72 326.21,372.77 324.84,369.82 323.47,366.87 322.11,363.92 320.74,360.97 319.38,358.02 318.01,355.07 316.65,352.11 315.29,349.16 313.94,346.20 312.58,343.24 311.22,340.29 309.87,337.33 308.52,334.37 307.17,331.41 305.82,328.45 297.41,326.86 303.27,329.61 304.62,332.57 305.97,335.53 307.33,338.49 308.68,341.45 310.03,344.41 311.39,347.37 312.75,350.33 314.11,353.28 315.47,356.24 316.83,359.19 318.20,362.15 319.57,365.10 320.93,368.05 322.30,371.00 323.68,373.95 325.05,376.90 326.42,379.85 327.80,382.80 329.18,385.75 330.56,388.70" fill="#000" fill-opacity="0.30"/>
<polygon points="235.96,135.18 237.19,138.13 238.42,141.08 239.64,144.03 240.87,146.98 242.10,149.93 243.34,152.88 244.57,155.83 245.81,158.77 247.05,161.72 248.28,164.67 249.53,167.61 250.77,170.56 259.13,172.36 263.67,165.11 262.43,162.18 261.19,159.24 259.95,156.30 258.72,153.36 257.48,150.42 256.25,147.48 255.02,144.53 253.79,141.59 252.57,138.65 251.34,135.70 250.12,132.76 248.90,129.81" fill="#0000ff"/>
<polygon points="235.96,135.18 237.19,138.13 238.42,141.08 239.64,144.03 240.87,146.98 242.10,149.93 243.34,152.88 244.57,155.83 245.81,158.77 247.05,161.72 248.28,164.67 249.53,167.61 250.77,170.56 259.13,172.36 253.35,169.47 252.11,166.53 250.87,163.58 249.63,160.64 248.39,157.69 247.15,154.74 245.92,151.80 244.69,148.85 243.46,145.90 242.23,142.95 241.00,140.00 239.77,137.05 238.55,134.10" fill="#fff" fill-opacity="0.30"/>
<polygon points="248.90,129.81 250.12,132.76 251.34,135.70 252.57,138.65 253.79,141.59 255.02,144.53 256.25,147.48 257.48,150.42 258.72,153.36 259.95,156.30 261.19,159.24 262.43,162.18 263.67,165.11 259.13,172.36 261.09,166.20 259.85,163.26 258.61,160.32 257.37,157.38 256.14,154.44 254.90,151.50 253.67,148.56 252.44,145.61 251.21,142.67 249.98,139.72 248.76,136.78 247.53,133.83 246.31,130.89" fill="#000" fill-opacity="0.30"/>
<polygon points="252.76,175.27 254.03,178.27 255.31,181.28 256.58,184.28 257.86,187.28 259.14,190.29 260.42,193.29 261.70,196.29 262.98,199.29 264.27,202.29 265.56,205.29 266.85,208.28 268.14,211.28 269.43,214.28 270.72,217.27 272.02,220.27 273.31,223.26 274.61,226.26 275.91,229.25 277.21,232.24 278.52,235.23 279.82,238.22 281.13,241.21 282.44,244.20 283.75,247.19 285.06,250.18 286.37,253.17 294.76,254.84 299.19,247.53 297.88,244.55 296.57,241.57 295.26,238.59 293.96,235.60 292.65,232.62 291.35,229.64 290.05,226.65 288.75,223.67 287.45,220.68 286.16,217.70 284.87,214.71 283.57,211.72 282.28,208.73 280.99,205.74 279.71,202.75 278.42,199.76 277.14,196.77 275.85,193.78 274.57,190.78 273.29,187.79 272.02,184.80 270.74,181.80 269.47,178.80 268.19,175.81 266.92,172.81 265.65,169.81" fill="#0000ff"/>
<polygon points="252.76,175.27 254.03,178.27 255.31,181.28 256.58,184.28 257.86,187.28 259.14,190.29 260.42,193.29 261.70,196.29 262.98,199.29 264.27,202.29 265.56,205.29 266.85,208.28 268.14,211.28 269.43,214.28 270.72,217.27 272.02,220.27 273.31,223.26 274.61,226.26 275.91,229.25 277.21,232.24 278.52,235.23 279.82,238.22 281.13,241.21 282.44,244.20 283.75,247.19 285.06,250.18 286.37,253.17 294.76,254.84 288.94,252.04 287.62,249.05 286.31,246.07 285.00,243.08 283.69,240.09 282.39,237.10 281.08,234.11 279.78,231.12 278.48,228.13 277.18,225.14 275.88,222.15 274.59,219.16 273.29,216.16 272.00,213.17 270.71,210.17 269.42,207.18 268.13,204.18 266.84,201.18 265.56,198.19 264.27,195.19 262.99,192.19 261.71,189.19 260.43,186.19 259.16,183.19 257.88,180.18 256.61,177.18 255.34,174.18" fill="#fff" fill-opacity="0.30"/>
<polygon points="265.65,169.81 266.92,172.81 268.19,175.81 269.47,178.80 270.74,181.80 272.02,184.80 273.29,187.79 274.57,190.78 275.85,193.78 277.14,196.77 278.42,199.76 279.71,202.75 280.99,205.74 282.28,208.73 283.57,211.72 284.87,214.71 286.16,217.70 287.45,220.68 288.75,223.67 290.05,226.65 291.35,229.64 292.65,232.62 293.96,235.60 295.26,238.59 296.57,241.57 297.88,244.55 299.19,247.53 294.76,254.84 296.62,248.66 295.31,245.68 294.00,242.69 292.70,239.71 291.39,236.73 290.09,233.74 288.78,230.76 287.48,227.77 286.18,224.78 284.89,221.80 283.59,218.81 282.30,215.82 281.00,212.83 279.71,209.84 278.42,206.85 277.13,203.86 275.85,200.87 274.56,197.87 273.28,194.88 272.00,191.88 270.72,188.89 269.44,185.89 268.16,182.90 266.89,179.90 265.62,176.90 264.34,173.90 263.07,170.90" fill="#000" fill-opacity="0.30"/>
<polygon points="287.77,256.35 289.05,259.24 290.32,262.13 291.60,265.01 292.88,267.90 294.16,270.79 295.44,273.67 296.72,276.56 298.01,279.44 299.29,282.33 300.58,285.21 301.87,288.09 303.16,290.97 304.45,293.85 305.74,296.73 307.04,299.61 308.34,302.49 309.63,305.37 310.93,308.25 312.23,311.13 320.64,312.71 324.99,305.35 323.69,302.48 322.39,299.61 321.10,296.74 319.81,293.87 318.51,291.00 317.22,288.12 315.93,285.25 314.65,282.37 313.36,279.50 312.08,276.62 310.79,273.74 309.51,270.87 308.23,267.99 306.95,265.11 305.68,262.23 304.40,259.35 303.13,256.47 301.85,253.59 300.58,250.70" fill="#0000ff"/>
<polygon points="287.77,256.35 289.05,259.24 290.32,262.13 291.60,265.01 292.88,267.90 294.16,270.79 295.44,273.67 296.72,276.56 298.01,279.44 299.29,282.33 300.58,285.21 301.87,288.09 303.16,290.97 304.45,293.85 305.74,296.73 307.04,299.61 308.34,302.49 309.63,305.37 310.93,308.25 312.23,311.13 320.64,312.71 314.79,309.97 313.48,307.10 312.19,304.22 310.89,301.34 309.59,298.47 308.30,295.59 307.00,292.71 305.71,289.83 304.42,286.95 303.14,284.07 301.85,281.18 300.56,278.30 299.28,275.42 298.00,272.54 296.72,269.65 295.44,266.77 294.16,263.88 292.88,260.99 291.61,258.11 290.33,255.22" fill="#fff" fill-opacity="0.30"/>
<polygon points="300.58,250.70 301.85,253.59 303.13,256.47 304.40,259.35 305.68,262.23 306.95,265.11 308.23,267.99 309.51,270.87 310.79,273.74 312.08,276.62 313.36,279.50 314.65,282.37 315.93,285.25 317.22,288.12 318.51,291.00 319.81,293.87 321.10,296.74 322.39,299.61 323.69,302.48 324.99,305.35 320.64,312.71 322.44,306.51 321.14,303.64 319.84,300.76 318.55,297.89 317.25,295.02 315.96,292.14 314.67,289.27 313.38,286.39 312.09,283.52 310.80,280.64 309.52,277.76 308.24,274.88 306.95,272.00 305.67,269.12 304.39,266.24 303.12,263.36 301.84,260.48 300.57,257.60 299.29,254.72 298.02,251.83" fill="#000" fill-opacity="0.30"/>
<polygon points="349.88,392.68 351.15,395.38 352.42,398.08 353.70,400.78 354.97,403.47 356.25,406.17 357.53,408.86 358.81,411.56 360.09,414.25 361.37,416.95 362.65,419.64 371.09,421.06 375.29,413.62 374.01,410.93 372.73,408.24 371.45,405.55 370.18,402.86 368.90,400.17 367.63,397.48 366.36,394.79 365.08,392.10 363.82,389.41 362.55,386.72" fill="#0000ff"/>
<polygon points="349.88,392.68 351.15,395.38 352.42,398.08 353.70,400.78 354.97,403.47 356.25,406.17 357.53,408.86 358.81,411.56 360.09,414.25 361.37,416.95 362.65,419.64 371.09,421.06 365.18,418.44 363.90,415.74 362.62,413.05 361.34,410.36 360.06,407.66 358.78,404.97 357.50,402.27 356.23,399.58 354.96,396.88 353.68,394.19 352.41,391.49" fill="#fff" fill-opacity="0.30"/>
<polygon points="362.55,386.72 363.82,389.41 365.08,392.10 366.36,394.79 367.63,397.48 368.90,400.17 370.18,402.86 371.45,405.55 372.73,408.24 374.01,410.93 375.29,413.62 371.09,421.06 372.76,414.82 371.48,412.13 370.20,409.44 368.92,406.75 367.65,404.06 366.37,401.37 365.10,398.68 363.82,395.99 362.55,393.30 361.28,390.60 360.01,387.91" fill="#000" fill-opacity="0.30"/>
<polygon points="370.01,435.02 371.40,437.90 372.78,440.78 374.17,443.67 375.56,446.55 376.96,449.43 378.35,452.31 379.74,455.19 381.14,458.07 382.54,460.95 383.94,463.82 385.34,466.70 386.74,469.57 388.15,472.45 389.55,475.32 390.96,478.20 392.37,481.07 393.78,483.94 395.19,486.81 396.61,489.68 398.02,492.55 399.44,495.42 400.86,498.29 402.27,501.16 403.70,504.02 405.12,506.89 413.57,508.17 417.66,500.66 416.24,497.80 414.82,494.94 413.40,492.08 411.99,489.22 410.58,486.36 409.16,483.50 407.75,480.63 406.34,477.77 404.94,474.90 403.53,472.04 402.13,469.17 400.73,466.30 399.32,463.43 397.92,460.56 396.53,457.69 395.13,454.82 393.73,451.95 392.34,449.08 390.95,446.21 389.56,443.33 388.17,440.46 386.78,437.59 385.40,434.71 384.01,431.83 382.63,428.96" fill="#0000ff"/>
<polygon points="370.01,435.02 371.40,437.90 372.78,440.78 374.17,443.67 375.56,446.55 376.96,449.43 378.35,452.31 379.74,455.19 381.14,458.07 382.54,460.95 383.94,463.82 385.34,466.70 386.74,469.57 388.15,472.45 389.55,475.32 390.96,478.20 392.37,481.07 393.78,483.94 395.19,486.81 396.61,489.68 398.02,492.55 399.44,495.42 400.86,498.29 402.27,501.16 403.70,504.02 405.12,506.89 413.57,508.17 407.63,505.64 406.20,502.78 404.78,499.91 403.36,497.05 401.95,494.18 400.53,491.31 399.12,488.45 397.70,485.58 396.29,482.71 394.88,479.84 393.47,476.96 392.07,474.09 390.66,471.22 389.26,468.35 387.86,465.47 386.46,462.60 385.06,459.72 383.66,456.84 382.26,453.97 380.87,451.09 379.48,448.21 378.08,445.33 376.69,442.45 375.31,439.57 373.92,436.69 372.53,433.81" fill="#fff" fill-opacity="0.30"/>
<polygon points="382.63,428.96 384.01,431.83 385.40,434.71 386.78,437.59 388.17,440.46 389.56,443.33 390.95,446.21 392.34,449.08 393.73,451.95 395.13,454.82 396.53,457.69 397.92,460.56 399.32,463.43 400.73,466.30 402.13,469.17 403.53,472.04 404.94,474.90 406.34,477.77 407.75,480.63 409.16,483.50 410.58,486.36 411.99,489.22 413.40,492.08 414.82,494.94 416.24,497.80 417.66,500.66 413.57,508.17 415.15,501.91 413.73,499.05 412.31,496.19 410.89,493.32 409.48,490.46 408.06,487.60 406.65,484.73 405.24,481.87 403.83,479.00 402.42,476.14 401.02,473.27 399.61,470.40 398.21,467.53 396.81,464.66 395.41,461.79 394.01,458.92 392.61,456.05 391.22,453.18 389.82,450.30 388.43,447.43 387.04,444.55 385.65,441.68 384.26,438.80 382.87,435.92 381.49,433.05 380.11,430.17" fill="#000" fill-opacity="0.30"/>
<polygon points="409.65,515.99 411.08,518.85 412.50,521.71 413.94,524.56 415.37,527.42 416.80,530.28 418.24,533.14 419.67,535.99 421.11,538.84 422.55,541.70 423.99,544.55 425.43,547.40 426.88,550.25 428.32,553.11 429.77,555.96 431.22,558.80 432.67,561.65 441.14,562.85 445.15,555.30 443.70,552.46 442.25,549.61 440.81,546.77 439.37,543.93 437.93,541.08 436.49,538.24 435.05,535.39 433.61,532.54 432.18,529.69 430.74,526.85 429.31,524.00 427.88,521.15 426.45,518.30 425.03,515.44 423.60,512.59 422.18,509.74" fill="#0000ff"/>
<polygon points="409.65,515.99 411.08,518.85 412.50,521.71 413.94,524.56 415.37,527.42 416.80,530.28 418.24,533.14 419.67,535.99 421.11,538.84 422.55,541.70 423.99,544.55 425.43,547.40 426.88,550.25 428.32,553.11 429.77,555.96 431.22,558.80 432.67,561.65 441.14,562.85 435.17,560.38 433.72,557.53 432.27,554.69 430.82,551.84 429.38,548.99 427.93,546.14 426.49,543.29 425.05,540.44 423.61,537.58 422.17,534.73 420.74,531.88 419.30,529.02 417.87,526.17 416.44,523.31 415.01,520.45 413.58,517.60 412.15,514.74" fill="#fff" fill-opacity="0.30"/>
<polygon points="422.18,509.74 423.60,512.59 425.03,515.44 426.45,518.30 427.88,521.15 429.31,524.00 430.74,526.85 432.18,529.69 433.61,532.54 435.05,535.39 436.49,538.24 437.93,541.08 439.37,543.93 440.81,546.77 442.25,549.61 443.70,552.46 445.15,555.30 441.14,562.85 442.65,556.57 441.20,553.72 439.76,550.88 438.31,548.04 436.87,545.19 435.43,542.35 433.99,539.50 432.55,536.65 431.11,533.80 429.68,530.95 428.24,528.10 426.81,525.25 425.38,522.40 423.95,519.55 422.52,516.70 421.09,513.84 419.67,510.99" fill="#000" fill-opacity="0.30"/>
<polygon points="435.35,566.91 436.80,569.74 438.25,572.58 439.71,575.41 441.16,578.25 442.61,581.08 444.07,583.91 445.53,586.74 446.99,589.57 448.45,592.40 449.91,595.23 451.38,598.06 452.84,600.89 454.31,603.71 455.78,606.54 457.25,609.36 458.72,612.19 460.20,615.01 461.67,617.83 463.15,620.65 464.63,623.48 466.10,626.30 467.59,629.12 469.07,631.93 470.55,634.75 472.04,637.57 473.52,640.39 475.01,643.20 476.50,646.02 484.99,647.08 488.87,639.46 487.39,636.65 485.90,633.85 484.42,631.04 482.94,628.23 481.46,625.41 479.98,622.60 478.50,619.79 477.02,616.98 475.55,614.16 474.08,611.35 472.61,608.53 471.14,605.71 469.67,602.90 468.20,600.08 466.74,597.26 465.27,594.44 463.81,591.62 462.35,588.80 460.89,585.97 459.43,583.15 457.97,580.33 456.52,577.50 455.07,574.68 453.61,571.85 452.16,569.03 450.71,566.20 449.27,563.37 447.82,560.54" fill="#0000ff"/>
<polygon points="435.35,566.91 436.80,569.74 438.25,572.58 439.71,575.41 441.16,578.25 442.61,581.08 444.07,583.91 445.53,586.74 446.99,589.57 448.45,592.40 449.91,595.23 451.38,598.06 452.84,600.89 454.31,603.71 455.78,606.54 457.25,609.36 458.72,612.19 460.20,615.01 461.67,617.83 463.15,620.65 464.63,623.48 466.10,626.30 467.59,629.12 469.07,631.93 470.55,634.75 472.04,637.57 473.52,640.39 475.01,643.20 476.50,646.02 484.99,647.08 478.98,644.70 477.49,641.89 476.00,639.08 474.51,636.26 473.03,633.45 471.55,630.63 470.06,627.81 468.58,624.99 467.10,622.18 465.63,619.36 464.15,616.54 462.68,613.71 461.21,610.89 459.73,608.07 458.26,605.25 456.80,602.42 455.33,599.60 453.86,596.77 452.40,593.94 450.94,591.12 449.48,588.29 448.02,585.46 446.56,582.63 445.11,579.80 443.65,576.97 442.20,574.14 440.75,571.30 439.30,568.47 437.85,565.64" fill="#fff" fill-opacity="0.30"/>
<polygon points="447.82,560.54 449.27,563.37 450.71,566.20 452.16,569.03 453.61,571.85 455.07,574.68 456.52,577.50 457.97,580.33 459.43,583.15 460.89,585.97 462.35,588.80 463.81,591.62 465.27,594.44 466.74,597.26 468.20,600.08 469.67,602.90 471.14,605.71 472.61,608.53 474.08,611.35 475.55,614.16 477.02,616.98 478.50,619.79 479.98,622.60 481.46,625.41 482.94,628.23 484.42,631.04 485.90,633.85 487.39,636.65 488.87,639.46 484.99,647.08 486.40,640.77 484.91,637.96 483.43,635.15 481.94,632.34 480.46,629.53 478.98,626.72 477.50,623.90 476.02,621.09 474.54,618.28 473.07,615.46 471.60,612.64 470.12,609.83 468.65,607.01 467.18,604.19 465.72,601.37 464.25,598.55 462.79,595.73 461.32,592.91 459.86,590.08 458.40,587.26 456.94,584.44 455.49,581.61 454.03,578.79 452.58,575.96 451.12,573.13 449.67,570.30 448.22,567.47 446.77,564.64 445.33,561.81" fill="#000" fill-opacity="0.30"/>
<polygon points="276.01,166.07 274.79,163.19 273.58,160.31 272.36,157.43 271.15,154.55 269.94,151.67 268.73,148.79 267.52,145.91 266.32,143.03 265.11,140.14 263.91,137.26 262.70,134.38 261.50,131.49 260.30,128.61 259.11,125.72 252.64,128.40 253.84,131.29 255.04,134.18 256.24,137.07 257.45,139.96 258.65,142.84 259.86,145.73 261.07,148.61 262.28,151.50 263.49,154.38 264.70,157.27 265.91,160.15 267.13,163.03 268.35,165.92 269.56,168.80" fill="#ff8c00"/>
<polygon points="270.85,168.25 269.64,165.37 268.42,162.49 267.20,159.61 265.99,156.72 264.78,153.84 263.57,150.96 262.36,148.07 261.15,145.19 259.94,142.30 258.74,139.42 257.53,136.53 256.33,133.64 255.13,130.75 253.93,127.87 252.64,128.40 253.84,131.29 255.04,134.18 256.24,137.07 257.45,139.96 258.65,142.84 259.86,145.73 261.07,148.61 262.28,151.50 263.49,154.38 264.70,157.27 265.91,160.15 267.13,163.03 268.35,165.92 269.56,168.80" fill="#fff" fill-opacity="0.30"/>
<polygon points="276.01,166.07 274.79,163.19 273.58,160.31 272.36,157.43 271.15,154.55 269.94,151.67 268.73,148.79 267.52,145.91 266.32,143.03 265.11,140.14 263.91,137.26 262.70,134.38 261.50,131.49 260.30,128.61 259.11,125.72 257.81,126.26 259.01,129.14 260.21,132.03 261.41,134.91 262.61,137.80 263.82,140.68 265.02,143.57 266.23,146.45 267.44,149.33 268.65,152.21 269.86,155.10 271.07,157.98 272.29,160.86 273.50,163.74 274.72,166.61" fill="#000" fill-opacity="0.30"/>
<polygon points="282.46,163.34 281.24,160.46 280.03,157.59 278.81,154.71 277.60,151.84 276.39,148.96 275.19,146.08 273.98,143.20 272.77,140.33 271.57,137.45 270.37,134.57 269.17,131.69 267.97,128.80 266.77,125.92 265.57,123.04 259.11,125.72 260.30,128.61 261.50,131.49 262.70,134.38 263.91,137.26 265.11,140.14 266.32,143.03 267.52,145.91 268.73,148.79 269.94,151.67 271.15,154.55 272.36,157.43 273.58,160.31 274.79,163.19 276.01,166.07" fill="#32cd32"/>
<polygon points="277.30,165.52 276.08,162.65 274.87,159.77 273.65,156.89 272.44,154.01 271.23,151.13 270.02,148.25 268.81,145.37 267.61,142.49 266.40,139.60 265.20,136.72 264.00,133.84 262.80,130.95 261.60,128.07 260.40,125.18 259.11,125.72 260.30,128.61 261.50,131.49 262.70,134.38 263.91,137.26 265.11,140.14 266.32,143.03 267.52,145.91 268.73,148.79 269.94,151.67 271.15,154.55 272.36,157.43 273.58,160.31 274.79,163.19 276.01,166.07" fill="#fff" fill-opacity="0.30"/>
<polygon points="282.46,163.34 281.24,160.46 280.03,157.59 278.81,154.71 277.60,151.84 276.39,148.96 275.19,146.08 273.98,143.20 272.77,140.33 271.57,137.45 270.37,134.57 269.17,131.69 267.97,128.80 266.77,125.92 265.57,123.04 264.28,123.58 265.48,126.46 266.67,129.34 267.87,132.22 269.08,135.10 270.28,137.99 271.48,140.87 272.69,143.75 273.89,146.62 275.10,149.50 276.31,152.38 277.52,155.26 278.74,158.13 279.95,161.01 281.17,163.89" fill="#000" fill-opacity="0.30"/>
<polygon points="317.58,244.64 316.30,241.73 315.02,238.82 313.74,235.91 312.46,233.00 311.19,230.09 309.91,227.17 308.64,224.26 307.37,221.34 306.10,218.43 304.83,215.51 303.57,212.60 302.30,209.68 301.04,206.76 299.78,203.84 298.52,200.93 297.26,198.01 296.00,195.09 294.75,192.17 293.49,189.24 292.24,186.32 290.99,183.40 289.74,180.47 288.49,177.55 287.25,174.63 286.00,171.70 284.76,168.77 283.52,165.85 282.28,162.92 269.39,168.38 270.63,171.31 271.87,174.24 273.12,177.18 274.37,180.11 275.62,183.04 276.87,185.97 278.12,188.90 279.37,191.83 280.63,194.76 281.88,197.69 283.14,200.62 284.40,203.54 285.66,206.47 286.93,209.40 288.19,212.32 289.46,215.25 290.72,218.17 291.99,221.09 293.26,224.02 294.54,226.94 295.81,229.86 297.09,232.78 298.36,235.70 299.64,238.62 300.92,241.54 302.20,244.45 303.49,247.37 304.77,250.29" fill="#32cd32"/>
<polygon points="307.33,249.16 306.05,246.24 304.77,243.33 303.49,240.41 302.21,237.49 300.93,234.58 299.65,231.66 298.38,228.74 297.10,225.82 295.83,222.90 294.56,219.98 293.29,217.06 292.03,214.13 290.76,211.21 289.50,208.29 288.23,205.36 286.97,202.44 285.71,199.51 284.46,196.58 283.20,193.66 281.95,190.73 280.69,187.80 279.44,184.87 278.19,181.94 276.94,179.01 275.70,176.08 274.45,173.15 273.21,170.22 271.97,167.28 269.39,168.38 270.63,171.31 271.87,174.24 273.12,177.18 274.37,180.11 275.62,183.04 276.87,185.97 278.12,188.90 279.37,191.83 280.63,194.76 281.88,197.69 283.14,200.62 284.40,203.54 285.66,206.47 286.93,209.40 288.19,212.32 289.46,215.25 290.72,218.17 291.99,221.09 293.26,224.02 294.54,226.94 295.81,229.86 297.09,232.78 298.36,235.70 299.64,238.62 300.92,241.54 302.20,244.45 303.49,247.37 304.77,250.29" fill="#fff" fill-opacity="0.30"/>
<polygon points="317.58,244.64 316.30,241.73 315.02,238.82 313.74,235.91 312.46,233.00 311.19,230.09 309.91,227.17 308.64,224.26 307.37,221.34 306.10,218.43 304.83,215.51 303.57,212.60 302.30,209.68 301.04,206.76 299.78,203.84 298.52,200.93 297.26,198.01 296.00,195.09 294.75,192.17 293.49,189.24 292.24,186.32 290.99,183.40 289.74,180.47 288.49,177.55 287.25,174.63 286.00,171.70 284.76,168.77 283.52,165.85 282.28,162.92 279.70,164.01 280.94,166.94 282.18,169.87 283.43,172.80 284.67,175.72 285.92,178.65 287.17,181.57 288.42,184.50 289.67,187.42 290.92,190.35 292.18,193.27 293.43,196.19 294.69,199.11 295.95,202.03 297.21,204.96 298.47,207.87 299.73,210.79 301.00,213.71 302.27,216.63 303.53,219.55 304.80,222.46 306.08,225.38 307.35,228.29 308.62,231.21 309.90,234.12 311.18,237.03 312.46,239.95 313.74,242.86 315.02,245.77" fill="#000" fill-opacity="0.30"/>
<polygon points="343.41,302.39 342.10,299.51 340.80,296.63 339.49,293.74 338.19,290.86 336.89,287.98 335.59,285.09 334.30,282.21 333.00,279.32 331.71,276.43 330.42,273.55 329.13,270.66 327.84,267.77 326.55,264.88 325.27,261.99 323.98,259.10 322.70,256.21 321.42,253.32 320.14,250.43 318.86,247.53 317.58,244.64 304.77,250.29 306.05,253.19 307.33,256.09 308.62,258.99 309.90,261.89 311.19,264.78 312.47,267.68 313.76,270.58 315.05,273.47 316.34,276.37 317.64,279.26 318.93,282.16 320.23,285.05 321.53,287.94 322.83,290.83 324.13,293.73 325.43,296.62 326.73,299.51 328.04,302.39 329.35,305.28 330.66,308.17" fill="#483d8b"/>
<polygon points="333.21,307.01 331.90,304.13 330.59,301.24 329.29,298.35 327.98,295.46 326.68,292.58 325.38,289.69 324.08,286.80 322.78,283.90 321.49,281.01 320.19,278.12 318.90,275.23 317.61,272.33 316.32,269.44 315.03,266.54 313.74,263.65 312.46,260.75 311.18,257.85 309.89,254.96 308.61,252.06 307.33,249.16 304.77,250.29 306.05,253.19 307.33,256.09 308.62,258.99 309.90,261.89 311.19,264.78 312.47,267.68 313.76,270.58 315.05,273.47 316.34,276.37 317.64,279.26 318.93,282.16 320.23,285.05 321.53,287.94 322.83,290.83 324.13,293.73 325.43,296.62 326.73,299.51 328.04,302.39 329.35,305.28 330.66,308.17" fill="#fff" fill-opacity="0.30"/>
<polygon points="343.41,302.39 342.10,299.51 340.80,296.63 339.49,293.74 338.19,290.86 336.89,287.98 335.59,285.09 334.30,282.21 333.00,279.32 331.71,276.43 330.42,273.55 329.13,270.66 327.84,267.77 326.55,264.88 325.27,261.99 323.98,259.10 322.70,256.21 321.42,253.32 320.14,250.43 318.86,247.53 317.58,244.64 315.02,245.77 316.30,248.66 317.58,251.56 318.86,254.45 320.14,257.35 321.42,260.24 322.71,263.13 323.99,266.02 325.28,268.91 326.57,271.80 327.86,274.69 329.15,277.58 330.45,280.47 331.74,283.35 333.04,286.24 334.34,289.13 335.64,292.01 336.94,294.90 338.25,297.78 339.55,300.66 340.86,303.54" fill="#000" fill-opacity="0.30"/>
<polygon points="435.81,496.74 434.37,493.84 432.93,490.94 431.49,488.03 430.05,485.13 428.61,482.23 427.17,479.32 425.74,476.41 424.31,473.51 422.88,470.60 421.45,467.69 420.02,464.78 418.60,461.87 417.17,458.96 415.75,456.05 414.33,453.13 412.91,450.22 411.49,447.31 410.07,444.39 408.66,441.48 407.25,438.56 405.83,435.64 404.42,432.73 403.02,429.81 401.61,426.89 400.20,423.97 398.80,421.05 386.18,427.11 387.59,430.03 389.00,432.96 390.41,435.89 391.82,438.81 393.23,441.74 394.65,444.66 396.06,447.59 397.48,450.51 398.90,453.43 400.32,456.35 401.74,459.27 403.17,462.19 404.59,465.11 406.02,468.03 407.45,470.94 408.88,473.86 410.31,476.78 411.75,479.69 413.18,482.60 414.62,485.52 416.06,488.43 417.50,491.34 418.94,494.25 420.39,497.16 421.83,500.07 423.28,502.98" fill="#00ced1"/>
<polygon points="425.78,501.73 424.34,498.82 422.89,495.92 421.45,493.01 420.01,490.10 418.57,487.19 417.13,484.28 415.70,481.37 414.26,478.45 412.83,475.54 411.40,472.63 409.97,469.71 408.54,466.80 407.11,463.88 405.68,460.96 404.26,458.04 402.84,455.12 401.42,452.21 400.00,449.28 398.58,446.36 397.17,443.44 395.75,440.52 394.34,437.60 392.93,434.67 391.52,431.75 390.11,428.82 388.70,425.89 386.18,427.11 387.59,430.03 389.00,432.96 390.41,435.89 391.82,438.81 393.23,441.74 394.65,444.66 396.06,447.59 397.48,450.51 398.90,453.43 400.32,456.35 401.74,459.27 403.17,462.19 404.59,465.11 406.02,468.03 407.45,470.94 408.88,473.86 410.31,476.78 411.75,479.69 413.18,482.60 414.62,485.52 416.06,488.43 417.50,491.34 418.94,494.25 420.39,497.16 421.83,500.07 423.28,502.98" fill="#fff" fill-opacity="0.30"/>
<polygon points="435.81,496.74 434.37,493.84 432.93,490.94 431.49,488.03 430.05,485.13 428.61,482.23 427.17,479.32 425.74,476.41 424.31,473.51 422.88,470.60 421.45,467.69 420.02,464.78 418.60,461.87 417.17,458.96 415.75,456.05 414.33,453.13 412.91,450.22 411.49,447.31 410.07,444.39 408.66,441.48 407.25,438.56 405.83,435.64 404.42,432.73 403.02,429.81 401.61,426.89 400.20,423.97 398.80,421.05 396.28,422.26 397.68,425.18 399.09,428.10 400.49,431.02 401.90,433.94 403.31,436.86 404.73,439.78 406.14,442.70 407.55,445.62 408.97,448.53 410.39,451.45 411.81,454.36 413.23,457.28 414.66,460.19 416.08,463.10 417.51,466.01 418.94,468.92 420.37,471.83 421.80,474.74 423.23,477.65 424.66,480.56 426.10,483.47 427.54,486.37 428.98,489.28 430.42,492.18 431.86,495.09 433.30,497.99" fill="#000" fill-opacity="0.30"/>
<polygon points="464.00,552.64 462.55,549.80 461.09,546.95 459.64,544.10 458.20,541.25 456.75,538.40 455.30,535.55 453.86,532.70 452.42,529.85 450.98,527.00 449.54,524.15 448.10,521.29 446.66,518.44 445.23,515.58 443.80,512.73 442.36,509.87 440.93,507.01 439.51,504.15 438.08,501.29 425.55,507.54 426.98,510.41 428.41,513.27 429.85,516.14 431.28,519.00 432.72,521.87 434.16,524.73 435.60,527.59 437.04,530.45 438.48,533.31 439.92,536.17 441.37,539.03 442.82,541.88 444.27,544.74 445.72,547.60 447.17,550.45 448.62,553.31 450.08,556.16 451.53,559.01" fill="#00ced1"/>
<polygon points="454.03,557.74 452.57,554.89 451.12,552.03 449.66,549.18 448.21,546.33 446.76,543.47 445.31,540.62 443.87,537.76 442.42,534.90 440.98,532.05 439.54,529.19 438.10,526.33 436.66,523.47 435.22,520.61 433.78,517.75 432.35,514.88 430.92,512.02 429.49,509.16 428.06,506.29 425.55,507.54 426.98,510.41 428.41,513.27 429.85,516.14 431.28,519.00 432.72,521.87 434.16,524.73 435.60,527.59 437.04,530.45 438.48,533.31 439.92,536.17 441.37,539.03 442.82,541.88 444.27,544.74 445.72,547.60 447.17,550.45 448.62,553.31 450.08,556.16 451.53,559.01" fill="#fff" fill-opacity="0.30"/>
<polygon points="464.00,552.64 462.55,549.80 461.09,546.95 459.64,544.10 458.20,541.25 456.75,538.40 455.30,535.55 453.86,532.70 452.42,529.85 450.98,527.00 449.54,524.15 448.10,521.29 446.66,518.44 445.23,515.58 443.80,512.73 442.36,509.87 440.93,507.01 439.51,504.15 438.08,501.29 435.57,502.54 437.00,505.40 438.43,508.26 439.86,511.12 441.29,513.98 442.73,516.84 444.16,519.70 445.60,522.55 447.04,525.41 448.48,528.26 449.92,531.12 451.36,533.97 452.81,536.82 454.25,539.67 455.70,542.52 457.15,545.37 458.60,548.22 460.05,551.07 461.51,553.92" fill="#000" fill-opacity="0.30"/>
<polygon points="500.97,623.83 499.47,620.99 497.98,618.15 496.48,615.32 494.99,612.47 493.50,609.63 492.01,606.79 490.52,603.95 489.04,601.11 487.55,598.26 486.07,595.42 484.58,592.57 483.10,589.72 481.63,586.88 480.15,584.03 478.67,581.18 477.20,578.33 475.73,575.48 474.25,572.63 472.78,569.77 471.32,566.92 469.85,564.07 468.39,561.21 466.92,558.36 465.46,555.50 464.00,552.64 451.53,559.01 453.00,561.88 454.46,564.74 455.93,567.60 457.40,570.46 458.87,573.32 460.34,576.18 461.81,579.04 463.29,581.90 464.76,584.76 466.24,587.61 467.72,590.47 469.20,593.32 470.68,596.18 472.17,599.03 473.65,601.88 475.14,604.74 476.63,607.59 478.12,610.44 479.61,613.29 481.10,616.14 482.60,618.98 484.09,621.83 485.59,624.68 487.09,627.52 488.59,630.37" fill="#00ced1"/>
<polygon points="491.06,629.06 489.56,626.22 488.07,623.37 486.57,620.53 485.07,617.68 483.58,614.84 482.09,611.99 480.60,609.14 479.11,606.29 477.62,603.44 476.13,600.59 474.65,597.74 473.17,594.89 471.68,592.03 470.20,589.18 468.73,586.33 467.25,583.47 465.77,580.62 464.30,577.76 462.83,574.90 461.36,572.04 459.89,569.18 458.42,566.32 456.95,563.46 455.49,560.60 454.03,557.74 451.53,559.01 453.00,561.88 454.46,564.74 455.93,567.60 457.40,570.46 458.87,573.32 460.34,576.18 461.81,579.04 463.29,581.90 464.76,584.76 466.24,587.61 467.72,590.47 469.20,593.32 470.68,596.18 472.17,599.03 473.65,601.88 475.14,604.74 476.63,607.59 478.12,610.44 479.61,613.29 481.10,616.14 482.60,618.98 484.09,621.83 485.59,624.68 487.09,627.52 488.59,630.37" fill="#fff" fill-opacity="0.30"/>
<polygon points="500.97,623.83 499.47,620.99 497.98,618.15 496.48,615.32 494.99,612.47 493.50,609.63 492.01,606.79 490.52,603.95 489.04,601.11 487.55,598.26 486.07,595.42 484.58,592.57 483.10,589.72 481.63,586.88 480.15,584.03 478.67,581.18 477.20,578.33 475.73,575.48 474.25,572.63 472.78,569.77 471.32,566.92 469.85,564.07 468.39,561.21 466.92,558.36 465.46,555.50 464.00,552.64 461.51,553.92 462.97,556.78 464.43,559.63 465.89,562.49 467.36,565.35 468.83,568.20 470.30,571.06 471.77,573.91 473.24,576.76 474.71,579.61 476.19,582.47 477.66,585.32 479.14,588.17 480.62,591.01 482.10,593.86 483.58,596.71 485.07,599.56 486.55,602.40 488.04,605.25 489.53,608.09 491.02,610.93 492.51,613.78 494.00,616.62 495.50,619.46 497.00,622.30 498.49,625.14" fill="#000" fill-opacity="0.30"/>
<line x1="435.61" y1="673.28" x2="428.46" y2="677.08" stroke="#008000" stroke-width="2.0"/>
<line x1="510.52" y1="633.53" x2="517.67" y2="629.73" stroke="#008000" stroke-width="2.0"/>
<line x1="429.43" y1="661.60" x2="426.42" y2="663.19" stroke="#008000" stroke-width="1.9"/>
<line x1="504.42" y1="622.01" x2="507.43" y2="620.42" stroke="#008000" stroke-width="1.9"/>
<line x1="423.27" y1="649.90" x2="420.26" y2="651.48" stroke="#008000" stroke-width="1.9"/>
<line x1="498.35" y1="610.48" x2="501.36" y2="608.90" stroke="#008000" stroke-width="1.9"/>
<line x1="417.13" y1="638.19" x2="414.12" y2="639.76" stroke="#008000" stroke-width="1.9"/>
<line x1="492.30" y1="598.93" x2="495.31" y2="597.36" stroke="#008000" stroke-width="1.9"/>
<line x1="411.03" y1="626.47" x2="408.01" y2="628.03" stroke="#008000" stroke-width="1.9"/>
<line x1="486.28" y1="587.37" x2="489.29" y2="585.80" stroke="#008000" stroke-width="1.9"/>
<line x1="404.94" y1="614.73" x2="397.75" y2="618.45" stroke="#008000" stroke-width="2.0"/>
<line x1="480.28" y1="575.80" x2="487.48" y2="572.08" stroke="#008000" stroke-width="2.0"/>
<line x1="398.89" y1="602.98" x2="395.86" y2="604.53" stroke="#008000" stroke-width="1.9"/>
<line x1="474.31" y1="564.21" x2="477.33" y2="562.66" stroke="#008000" stroke-width="1.9"/>
<line x1="392.86" y1="591.21" x2="389.83" y2="592.76" stroke="#008000" stroke-width="1.9"/>
<line x1="468.36" y1="552.61" x2="471.39" y2="551.06" stroke="#008000" stroke-width="1.9"/>
<line x1="386.85" y1="579.44" x2="383.82" y2="580.98" stroke="#008000" stroke-width="1.9"/>
<line x1="462.44" y1="541.00" x2="465.47" y2="539.46" stroke="#008000" stroke-width="1.9"/>
<line x1="380.87" y1="567.65" x2="377.84" y2="569.18" stroke="#008000" stroke-width="1.9"/>
<line x1="456.55" y1="529.37" x2="459.58" y2="527.84" stroke="#008000" stroke-width="1.9"/>
<line x1="374.92" y1="555.84" x2="367.68" y2="559.48" stroke="#008000" stroke-width="2.0"/>
<line x1="450.68" y1="517.73" x2="457.91" y2="514.09" stroke="#008000" stroke-width="2.0"/>
<line x1="368.99" y1="544.03" x2="365.95" y2="545.55" stroke="#008000" stroke-width="1.9"/>
<line x1="444.83" y1="506.08" x2="447.87" y2="504.56" stroke="#008000" stroke-width="1.9"/>
<line x1="363.09" y1="532.20" x2="360.05" y2="533.71" stroke="#008000" stroke-width="1.9"/>
<line x1="439.01" y1="494.42" x2="442.06" y2="492.91" stroke="#008000" stroke-width="1.9"/>
<line x1="357.21" y1="520.35" x2="354.17" y2="521.86" stroke="#008000" stroke-width="1.9"/>
<line x1="433.22" y1="482.74" x2="436.26" y2="481.24" stroke="#008000" stroke-width="1.9"/>
<line x1="351.36" y1="508.50" x2="348.31" y2="510.00" stroke="#008000" stroke-width="1.9"/>
<line x1="427.45" y1="471.06" x2="430.50" y2="469.55" stroke="#008000" stroke-width="1.9"/>
<line x1="345.54" y1="496.63" x2="338.26" y2="500.19" stroke="#008000" stroke-width="2.0"/>
<line x1="421.71" y1="459.35" x2="428.98" y2="455.79" stroke="#008000" stroke-width="2.0"/>
<line x1="339.74" y1="484.75" x2="336.68" y2="486.24" stroke="#008000" stroke-width="1.9"/>
<line x1="415.99" y1="447.64" x2="419.05" y2="446.15" stroke="#008000" stroke-width="1.9"/>
<line x1="333.97" y1="472.86" x2="330.91" y2="474.34" stroke="#008000" stroke-width="1.9"/>
<line x1="410.30" y1="435.91" x2="413.36" y2="434.43" stroke="#008000" stroke-width="1.9"/>
<line x1="328.22" y1="460.95" x2="325.16" y2="462.43" stroke="#008000" stroke-width="1.9"/>
<line x1="404.63" y1="424.17" x2="407.69" y2="422.70" stroke="#008000" stroke-width="1.9"/>
<line x1="322.50" y1="449.04" x2="319.43" y2="450.50" stroke="#008000" stroke-width="1.9"/>
<line x1="398.99" y1="412.42" x2="402.06" y2="410.96" stroke="#008000" stroke-width="1.9"/>
<line x1="316.81" y1="437.10" x2="309.49" y2="440.59" stroke="#008000" stroke-width="2.0"/>
<line x1="393.38" y1="400.66" x2="400.69" y2="397.18" stroke="#008000" stroke-width="2.0"/>
<line x1="311.14" y1="425.16" x2="308.06" y2="426.62" stroke="#008000" stroke-width="1.9"/>
<line x1="387.79" y1="388.88" x2="390.86" y2="387.43" stroke="#008000" stroke-width="1.9"/>
<line x1="305.50" y1="413.21" x2="302.42" y2="414.65" stroke="#008000" stroke-width="1.9"/>
<line x1="382.22" y1="377.10" x2="385.30" y2="375.65" stroke="#008000" stroke-width="1.9"/>
<line x1="299.88" y1="401.24" x2="296.80" y2="402.68" stroke="#008000" stroke-width="1.9"/>
<line x1="376.69" y1="365.30" x2="379.76" y2="363.86" stroke="#008000" stroke-width="1.9"/>
<line x1="294.29" y1="389.26" x2="291.21" y2="390.69" stroke="#008000" stroke-width="1.9"/>
<line x1="371.17" y1="353.48" x2="374.26" y2="352.05" stroke="#008000" stroke-width="1.9"/>
<line x1="288.72" y1="377.27" x2="281.37" y2="380.67" stroke="#008000" stroke-width="2.0"/>
<line x1="365.69" y1="341.66" x2="373.04" y2="338.26" stroke="#008000" stroke-width="2.0"/>
<line x1="283.19" y1="365.26" x2="280.10" y2="366.69" stroke="#008000" stroke-width="1.9"/>
<line x1="360.23" y1="329.82" x2="363.32" y2="328.40" stroke="#008000" stroke-width="1.9"/>
<line x1="277.68" y1="353.25" x2="274.58" y2="354.66" stroke="#008000" stroke-width="1.9"/>
<line x1="354.79" y1="317.98" x2="357.88" y2="316.56" stroke="#008000" stroke-width="1.9"/>
<line x1="272.19" y1="341.22" x2="269.09" y2="342.63" stroke="#008000" stroke-width="1.9"/>
<line x1="349.38" y1="306.12" x2="352.48" y2="304.71" stroke="#008000" stroke-width="1.9"/>
<line x1="266.73" y1="329.18" x2="263.63" y2="330.58" stroke="#008000" stroke-width="1.9"/>
<line x1="344.00" y1="294.25" x2="347.10" y2="292.85" stroke="#008000" stroke-width="1.9"/>
<line x1="261.30" y1="317.13" x2="253.91" y2="320.45" stroke="#008000" stroke-width="2.0"/>
<line x1="338.64" y1="282.36" x2="346.03" y2="279.04" stroke="#008000" stroke-width="2.0"/>
<line x1="255.89" y1="305.06" x2="252.79" y2="306.45" stroke="#008000" stroke-width="1.9"/>
<line x1="333.31" y1="270.47" x2="336.42" y2="269.08" stroke="#008000" stroke-width="1.9"/>
<line x1="250.51" y1="292.99" x2="247.40" y2="294.37" stroke="#008000" stroke-width="1.9"/>
<line x1="328.01" y1="258.56" x2="331.12" y2="257.18" stroke="#008000" stroke-width="1.9"/>
<line x1="245.16" y1="280.90" x2="242.05" y2="282.28" stroke="#008000" stroke-width="1.9"/>
<line x1="322.73" y1="246.64" x2="325.84" y2="245.27" stroke="#008000" stroke-width="1.9"/>
<line x1="239.83" y1="268.80" x2="236.72" y2="270.17" stroke="#008000" stroke-width="1.9"/>
<line x1="317.48" y1="234.71" x2="320.59" y2="233.35" stroke="#008000" stroke-width="1.9"/>
<line x1="234.53" y1="256.69" x2="227.10" y2="259.93" stroke="#008000" stroke-width="2.0"/>
<line x1="312.25" y1="222.77" x2="319.67" y2="219.53" stroke="#008000" stroke-width="2.0"/>
<line x1="229.25" y1="244.57" x2="226.13" y2="245.92" stroke="#008000" stroke-width="1.9"/>
<line x1="307.05" y1="210.82" x2="310.17" y2="209.47" stroke="#008000" stroke-width="1.9"/>
<line x1="224.01" y1="232.44" x2="220.88" y2="233.78" stroke="#008000" stroke-width="1.9"/>
<line x1="301.87" y1="198.86" x2="305.00" y2="197.51" stroke="#008000" stroke-width="1.9"/>
<line x1="218.78" y1="220.29" x2="215.66" y2="221.63" stroke="#008000" stroke-width="1.9"/>
<line x1="296.73" y1="186.88" x2="299.85" y2="185.54" stroke="#008000" stroke-width="1.9"/>
<line x1="213.59" y1="208.14" x2="210.46" y2="209.47" stroke="#008000" stroke-width="1.9"/>
<line x1="291.60" y1="174.90" x2="294.73" y2="173.56" stroke="#008000" stroke-width="1.9"/>
<line x1="208.42" y1="195.97" x2="200.96" y2="199.13" stroke="#008000" stroke-width="2.0"/>
<line x1="286.51" y1="162.90" x2="293.97" y2="159.74" stroke="#008000" stroke-width="2.0"/>
<line x1="203.28" y1="183.79" x2="200.14" y2="185.11" stroke="#008000" stroke-width="1.9"/>
<line x1="281.44" y1="150.89" x2="284.57" y2="149.57" stroke="#008000" stroke-width="1.9"/>
<line x1="198.16" y1="171.60" x2="195.03" y2="172.91" stroke="#008000" stroke-width="1.9"/>
<line x1="276.39" y1="138.87" x2="279.53" y2="137.56" stroke="#008000" stroke-width="1.9"/>
<line x1="193.07" y1="159.40" x2="189.93" y2="160.70" stroke="#008000" stroke-width="1.9"/>
<line x1="271.37" y1="126.84" x2="274.51" y2="125.54" stroke="#008000" stroke-width="1.9"/>
<line x1="188.01" y1="147.19" x2="184.87" y2="148.49" stroke="#008000" stroke-width="1.9"/>
<line x1="266.38" y1="114.80" x2="269.53" y2="113.50" stroke="#008000" stroke-width="1.9"/>
<line x1="182.98" y1="134.96" x2="175.48" y2="138.04" stroke="#008000" stroke-width="2.0"/>
<line x1="261.42" y1="102.75" x2="268.91" y2="99.67" stroke="#008000" stroke-width="2.0"/>
<line x1="177.97" y1="122.73" x2="174.82" y2="124.01" stroke="#008000" stroke-width="1.9"/>
<line x1="256.48" y1="90.69" x2="259.63" y2="89.40" stroke="#008000" stroke-width="1.9"/>
<line x1="172.99" y1="110.48" x2="169.83" y2="111.76" stroke="#008000" stroke-width="1.9"/>
<line x1="251.57" y1="78.61" x2="254.72" y2="77.33" stroke="#008000" stroke-width="1.9"/>
<line x1="168.03" y1="98.23" x2="164.88" y2="99.50" stroke="#008000" stroke-width="1.9"/>
<line x1="246.68" y1="66.53" x2="249.83" y2="65.26" stroke="#008000" stroke-width="1.9"/>
<line x1="163.10" y1="85.96" x2="159.94" y2="87.23" stroke="#008000" stroke-width="1.9"/>
<line x1="241.82" y1="54.43" x2="244.98" y2="53.17" stroke="#008000" stroke-width="1.9"/>
<line x1="158.20" y1="73.69" x2="150.67" y2="76.68" stroke="#008000" stroke-width="2.0"/>
<line x1="236.99" y1="42.33" x2="244.51" y2="39.33" stroke="#008000" stroke-width="2.0"/>
<line x1="153.32" y1="61.40" x2="150.16" y2="62.65" stroke="#008000" stroke-width="1.9"/>
<line x1="232.18" y1="30.21" x2="235.34" y2="28.96" stroke="#008000" stroke-width="1.9"/>
<line x1="148.48" y1="49.10" x2="145.31" y2="50.34" stroke="#008000" stroke-width="1.9"/>
<line x1="227.40" y1="18.08" x2="230.57" y2="16.84" stroke="#008000" stroke-width="1.9"/>
<line x1="143.65" y1="36.79" x2="140.49" y2="38.03" stroke="#008000" stroke-width="1.9"/>
<line x1="222.65" y1="5.95" x2="225.81" y2="4.71" stroke="#008000" stroke-width="1.9"/>
<line x1="138.86" y1="24.47" x2="135.69" y2="25.70" stroke="#008000" stroke-width="1.9"/>
<line x1="217.92" y1="-6.20" x2="221.09" y2="-7.43" stroke="#008000" stroke-width="1.9"/>
<line x1="134.09" y1="12.14" x2="126.53" y2="15.05" stroke="#008000" stroke-width="2.0"/>
<line x1="213.22" y1="-18.36" x2="220.78" y2="-21.27" stroke="#008000" stroke-width="2.0"/>
<line x1="129.35" y1="-0.20" x2="126.18" y2="1.01" stroke="#008000" stroke-width="1.9"/>
<line x1="208.54" y1="-30.52" x2="211.72" y2="-31.74" stroke="#008000" stroke-width="1.9"/>
<line x1="124.64" y1="-12.55" x2="121.46" y2="-11.34" stroke="#008000" stroke-width="1.9"/>
<line x1="203.90" y1="-42.70" x2="207.07" y2="-43.91" stroke="#008000" stroke-width="1.9"/>
<line x1="119.95" y1="-24.91" x2="116.77" y2="-23.71" stroke="#008000" stroke-width="1.9"/>
<line x1="199.28" y1="-54.89" x2="202.46" y2="-56.09" stroke="#008000" stroke-width="1.9"/>
<line x1="120.89" y1="10.13" x2="77.02" y2="26.98" stroke="#ff0000" stroke-width="1"/>
<text x="27.30" y="30.00" font-size="10" fill="#ff0000" stroke="#ff0000" stroke-width="0.12" textLength="47.6" font-family="'DejaVu Sans Condensed','DejaVu Sans','Liberation Sans',sans-serif">RD1_2948</text>
<line x1="144.98" y1="71.82" x2="101.29" y2="89.15" stroke="#ff0000" stroke-width="1"/>
<text x="51.75" y="92.05" font-size="10" fill="#ff0000" stroke="#ff0000" stroke-width="0.12" textLength="47.4" font-family="'DejaVu Sans Condensed','DejaVu Sans','Liberation Sans',sans-serif">RD1_2947</text>
<line x1="164.90" y1="121.41" x2="121.37" y2="139.13" stroke="#ff0000" stroke-width="1"/>
<text x="71.45" y="143.30" font-size="10" fill="#ff0000" stroke="#ff0000" stroke-width="0.12" textLength="47.4" font-family="'DejaVu Sans Condensed','DejaVu Sans','Liberation Sans',sans-serif">RD1_2946</text>
<line x1="275.14" y1="375.53" x2="232.46" y2="395.21" stroke="#ff0000" stroke-width="1"/>
<text x="208.80" y="398.70" font-size="10" fill="#ff0000" stroke="#ff0000" stroke-width="0.12" textLength="21.5" font-family="'DejaVu Sans Condensed','DejaVu Sans','Liberation Sans',sans-serif">cysK</text>
<line x1="287.97" y1="136.50" x2="333.17" y2="117.57" stroke="#0000ff" stroke-width="1"/>
<text x="334.80" y="118.60" font-size="10" fill="#0000ff" stroke="#0000ff" stroke-width="0.12" textLength="19.8" font-family="'DejaVu Sans Condensed','DejaVu Sans','Liberation Sans',sans-serif">tctD</text>
<line x1="313.76" y1="197.13" x2="358.75" y2="177.70" stroke="#0000ff" stroke-width="1"/>
<text x="360.50" y="179.10" font-size="10" fill="#0000ff" stroke="#0000ff" stroke-width="0.12" textLength="47.2" font-family="'DejaVu Sans Condensed','DejaVu Sans','Liberation Sans',sans-serif">RD1_2944</text>
<line x1="344.33" y1="266.69" x2="389.06" y2="246.69" stroke="#0000ff" stroke-width="1"/>
<text x="390.70" y="248.30" font-size="10" fill="#0000ff" stroke="#0000ff" stroke-width="0.12" textLength="46.8" font-family="'DejaVu Sans Condensed','DejaVu Sans','Liberation Sans',sans-serif">RD1_2943</text>
<line x1="400.05" y1="387.68" x2="444.33" y2="366.69" stroke="#0000ff" stroke-width="1"/>
<text x="446.40" y="368.10" font-size="10" fill="#0000ff" stroke="#0000ff" stroke-width="0.12" textLength="47.3" font-family="'DejaVu Sans Condensed','DejaVu Sans','Liberation Sans',sans-serif">RD1_2940</text>
<line x1="430.98" y1="451.92" x2="475.00" y2="430.40" stroke="#0000ff" stroke-width="1"/>
<text x="476.50" y="433.00" font-size="10" fill="#0000ff" stroke="#0000ff" stroke-width="0.12" textLength="23.3" font-family="'DejaVu Sans Condensed','DejaVu Sans','Liberation Sans',sans-serif">upgB</text>
<line x1="464.76" y1="519.90" x2="508.50" y2="497.82" stroke="#0000ff" stroke-width="1"/>
<text x="510.70" y="499.80" font-size="10" fill="#0000ff" stroke="#0000ff" stroke-width="0.12" textLength="24.5" font-family="'DejaVu Sans Condensed','DejaVu Sans','Liberation Sans',sans-serif">ugpA</text>
<line x1="490.35" y1="570.01" x2="533.88" y2="547.52" stroke="#0000ff" stroke-width="1"/>
<text x="535.50" y="549.10" font-size="10" fill="#0000ff" stroke="#0000ff" stroke-width="0.12" textLength="23.0" font-family="'DejaVu Sans Condensed','DejaVu Sans','Liberation Sans',sans-serif">ugpE</text>
<rect x="246.3" y="28.7" width="39" height="9.5" fill="#fff" fill-opacity="0.6"/>
<text x="246.8" y="35.8" font-size="7.7" fill="#000" textLength="38.2" font-family="'DejaVu Sans','Liberation Sans',sans-serif">2826 kbp</text>
<rect x="270.3" y="89.6" width="39" height="9.5" fill="#fff" fill-opacity="0.6"/>
<text x="270.8" y="96.7" font-size="7.7" fill="#000" textLength="38.2" font-family="'DejaVu Sans','Liberation Sans',sans-serif">2825 kbp</text>
<rect x="295.4" y="149.6" width="39" height="9.5" fill="#fff" fill-opacity="0.6"/>
<text x="295.9" y="156.7" font-size="7.7" fill="#000" textLength="38.2" font-family="'DejaVu Sans','Liberation Sans',sans-serif">2824 kbp</text>
<rect x="320.4" y="208.9" width="39" height="9.5" fill="#fff" fill-opacity="0.6"/>
<text x="320.9" y="216.0" font-size="7.7" fill="#000" textLength="38.2" font-family="'DejaVu Sans','Liberation Sans',sans-serif">2823 kbp</text>
<rect x="347.4" y="268.7" width="39" height="9.5" fill="#fff" fill-opacity="0.6"/>
<text x="347.9" y="275.8" font-size="7.7" fill="#000" textLength="38.2" font-family="'DejaVu Sans','Liberation Sans',sans-serif">2822 kbp</text>
<rect x="373.8" y="327.9" width="39" height="9.5" fill="#fff" fill-opacity="0.6"/>
<text x="374.3" y="335.0" font-size="7.7" fill="#000" textLength="38.2" font-family="'DejaVu Sans','Liberation Sans',sans-serif">2821 kbp</text>
<rect x="401.6" y="386.6" width="39" height="9.5" fill="#fff" fill-opacity="0.6"/>
<text x="402.1" y="393.7" font-size="7.7" fill="#000" textLength="38.2" font-family="'DejaVu Sans','Liberation Sans',sans-serif">2820 kbp</text>
<rect x="429.6" y="444.6" width="39" height="9.5" fill="#fff" fill-opacity="0.6"/>
<text x="430.1" y="451.7" font-size="7.7" fill="#000" textLength="38.2" font-family="'DejaVu Sans','Liberation Sans',sans-serif">2819 kbp</text>
<rect x="458.5" y="502.5" width="39" height="9.5" fill="#fff" fill-opacity="0.6"/>
<text x="459.0" y="509.6" font-size="7.7" fill="#000" textLength="38.2" font-family="'DejaVu Sans','Liberation Sans',sans-serif">2818 kbp</text>
<rect x="487.5" y="560.9" width="39" height="9.5" fill="#fff" fill-opacity="0.6"/>
<text x="488.0" y="568.0" font-size="7.7" fill="#000" textLength="38.2" font-family="'DejaVu Sans','Liberation Sans',sans-serif">2817 kbp</text>
<rect x="111" y="5" width="378.5" height="26" fill="#fff" fill-opacity="0.8"/>
<text x="116.0" y="22.6" font-size="12.3" font-style="italic" fill="#000" textLength="83.3" font-family="'DejaVu Sans','Liberation Sans',sans-serif">Roseobacter</text>
<text x="206.0" y="22.6" font-size="12.3" font-style="italic" fill="#000" textLength="82.3" font-family="'DejaVu Sans','Liberation Sans',sans-serif">denitrificans</text>
<text x="294.2" y="22.6" font-size="12.3" font-style="italic" fill="#000" textLength="28.3" font-family="'DejaVu Sans','Liberation Sans',sans-serif">OCh</text>
<text x="328.5" y="22.6" font-size="12.3" font-style="italic" fill="#000" textLength="28.5" font-family="'DejaVu Sans','Liberation Sans',sans-serif">114,</text>
<text x="363.5" y="22.6" font-size="12.3" font-style="italic" fill="#000" textLength="60.2" font-family="'DejaVu Sans','Liberation Sans',sans-serif">complete</text>
<text x="430.0" y="22.6" font-size="12.3" font-style="italic" fill="#000" textLength="54.3" font-family="'DejaVu Sans','Liberation Sans',sans-serif">genome</text>
<rect x="6" y="571" width="141" height="23.5" fill="#fff" fill-opacity="0.8"/>
<text x="9.0" y="586.8" font-size="12" fill="#000" textLength="58.9" font-family="'DejaVu Sans','Liberation Sans',sans-serif">Accession:</text>
<text x="72.6" y="586.8" font-size="12" fill="#000" textLength="71.7" font-family="'DejaVu Sans','Liberation Sans',sans-serif">NC_008209</text>
<rect x="258" y="571" width="335" height="23.5" fill="#fff" fill-opacity="0.8"/>
<text x="261.4" y="586.8" font-size="12" fill="#000" textLength="56.0" font-family="'DejaVu Sans','Liberation Sans',sans-serif">Topology:</text>
<text x="322.5" y="586.8" font-size="12" fill="#000" textLength="45.1" font-family="'DejaVu Sans','Liberation Sans',sans-serif">circular;</text>
<text x="371.8" y="586.8" font-size="12" fill="#000" textLength="41.9" font-family="'DejaVu Sans','Liberation Sans',sans-serif">Length:</text>
<text x="418.1" y="586.8" font-size="12" fill="#000" textLength="63.0" font-family="'DejaVu Sans','Liberation Sans',sans-serif">4,133,097</text>
<text x="486.5" y="586.8" font-size="12" fill="#000" textLength="19.1" font-family="'DejaVu Sans','Liberation Sans',sans-serif">bp;</text>
<text x="510.9" y="586.8" font-size="12" fill="#000" textLength="38.9" font-family="'DejaVu Sans','Liberation Sans',sans-serif">Genes:</text>
<text x="554.1" y="586.8" font-size="12" fill="#000" textLength="36.0" font-family="'DejaVu Sans','Liberation Sans',sans-serif">3,988</text>
</svg></body></html>
